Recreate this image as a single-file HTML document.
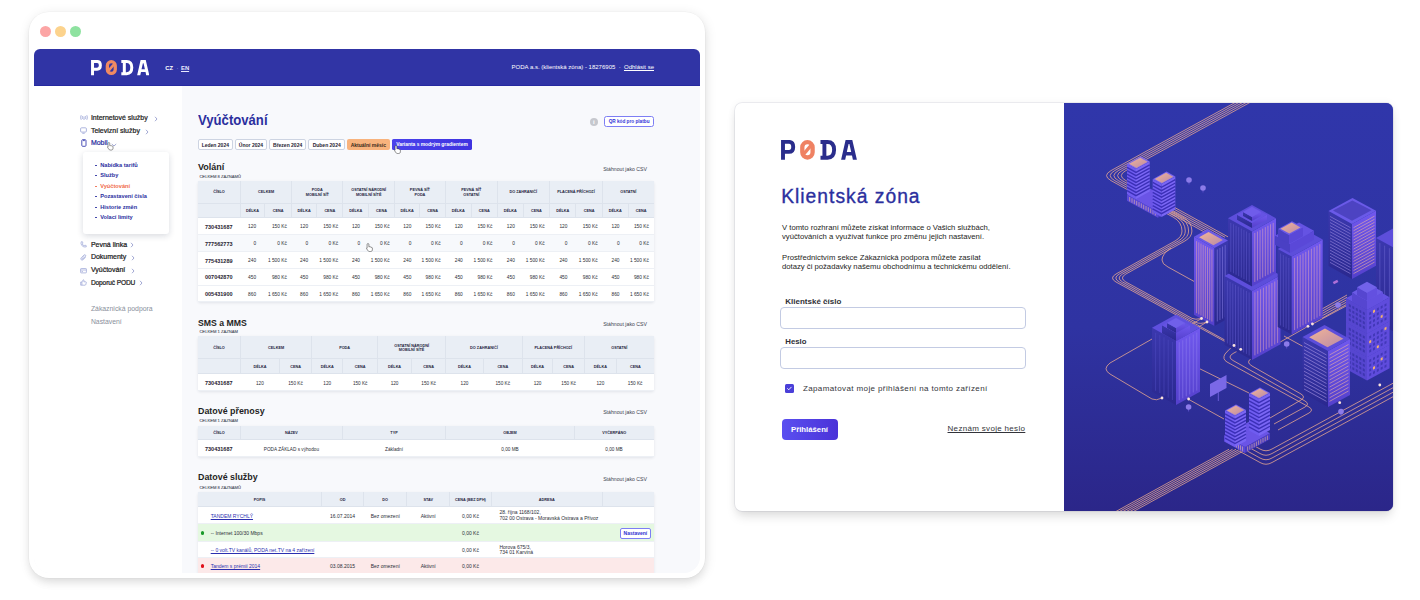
<!DOCTYPE html>
<html><head><meta charset="utf-8">
<style>
*{box-sizing:border-box;margin:0;padding:0}
html,body{width:1420px;height:600px;overflow:hidden;background:#fff}
body{position:relative;font-family:"Liberation Sans",sans-serif;color:#222}
.a{position:absolute}
.t{position:absolute;white-space:nowrap}
#win{position:absolute;left:28.6px;top:11.8px;width:676px;height:565.8px;background:#fff;border-radius:20px;box-shadow:0 6px 10px -2px rgba(0,0,0,.08),1px 2px 12px rgba(0,0,0,.10),0 0 0 0.6px rgba(0,0,0,.035)}
.dot{position:absolute;top:14px;width:11px;height:11px;border-radius:50%}
#app{position:absolute;left:5.4px;top:37.2px;width:666px;height:524px;border-radius:6px 6px 16px 16px;overflow:hidden;background:#f8f9fc}
#pg{position:absolute;left:-34px;top:-49px;width:1420px;height:600px}
#card{position:absolute;left:734.5px;top:103px;width:658.5px;height:407.5px;background:#fff;border-radius:7px;box-shadow:0 7px 11px -2px rgba(0,0,0,.13),0 0 8px rgba(0,0,0,.05),0 0 0 0.7px rgba(90,100,140,.13)}
#cpg{position:absolute;left:-734.5px;top:-103px;width:1420px;height:600px}
#ill{position:absolute;left:329.5px;top:0;width:329px;height:408px;border-radius:0 7px 7px 0;overflow:hidden;background:linear-gradient(#3036a8,#2c2890)}
table{border-collapse:collapse;table-layout:fixed;position:absolute;font-family:"Liberation Sans",sans-serif}
td,th{padding:0;overflow:hidden;white-space:nowrap}
</style></head>
<body>
<div id="win">
  <div class="dot" style="left:11px;background:#fca5a5"></div>
  <div class="dot" style="left:26px;background:#fcd38d"></div>
  <div class="dot" style="left:41px;background:#8ee2a0"></div>
  <div id="app"><div id="pg">
<div class="a" style="left:34.00px;top:49.00px;width:666.00px;height:37.00px;background:#3034a5;border-radius:3px 3px 0 0;"></div>
<div class="a" style="left:34.00px;top:85.00px;width:666.00px;height:1.00px;background:#2629a0;"></div>
<svg class="a" style="left:90.6px;top:60.4px" width="58.37" height="15.36" viewBox="0 0 76 20">
<path d="M2,19.7V1.9H8C10.8,1.9 12.2,3.9 12.2,6.9C12.2,9.9 10.8,11.9 8,11.9H2" fill="none" stroke="#ffffff" stroke-width="3.9"/>
<rect x="21.3" y="2.2" width="10.3" height="15.3" rx="5.15" fill="none" stroke="#f08a62" stroke-width="4.3"/>
<path d="M22.6,14.2L30.3,5.2" stroke="#f08a62" stroke-width="3.4"/>
<path d="M39.5,1.95H46.5C51.5,1.95 53.1,4.9 53.1,9.85C53.1,14.8 51.5,17.75 46.5,17.75H39.5M43.4,1.95V17.75" fill="none" stroke="#ffffff" stroke-width="3.9"/>
<path fill-rule="evenodd" fill="#ffffff" d="M60.1,19.7L64.6,0.1H71.3L75.9,19.7H71.9L71,15.6H65.1L64.2,19.7ZM65.8,12.1H70.2L68.4,4.1H67.6Z"/>
</svg>
<div class="t" style="left:165.30px;top:64.76px;font-size:5.85px;line-height:7.02px;font-weight:bold;color:#fff;">CZ</div>
<div class="t" style="left:177.50px;top:64.76px;font-size:5.85px;line-height:7.02px;font-weight:normal;color:#b9bbe8;transform:translateX(-50%);">·</div>
<div class="t" style="left:181.00px;top:64.76px;font-size:5.85px;line-height:7.02px;font-weight:bold;color:#e8e9ff;"><u>EN</u></div>
<div class="t" style="right:766.00px;top:64.12px;font-size:6px;line-height:7.20px;font-weight:normal;color:#fff;">PODA a.s. (klientská zóna) - 18276905 &nbsp;·&nbsp; <u>Odhlásit se</u></div>
<div class="a" style="left:34.00px;top:86.00px;width:148.00px;height:487.00px;background:#fff;"></div>
<div class="t" style="left:90.90px;top:114.37px;font-size:7px;line-height:8.40px;font-weight:normal;color:#222;-webkit-text-stroke:0.22px #222;">Internetové služby</div>
<div class="t" style="left:90.90px;top:127.17px;font-size:7px;line-height:8.40px;font-weight:normal;color:#222;-webkit-text-stroke:0.22px #222;">Televizní služby</div>
<div class="t" style="left:90.90px;top:139.37px;font-size:7px;line-height:8.40px;font-weight:normal;color:#2b2fa0;-webkit-text-stroke:0.22px #2b2fa0;">Mobil</div>
<svg class="a" style="left:153.80px;top:115.90px" width="4" height="6" viewBox="0 0 4 6"><path d="M1,0.8L3,3L1,5.2" fill="none" stroke="#8b93c9" stroke-width="0.8"/></svg>
<svg class="a" style="left:144.90px;top:128.70px" width="4" height="6" viewBox="0 0 4 6"><path d="M1,0.8L3,3L1,5.2" fill="none" stroke="#8b93c9" stroke-width="0.8"/></svg>
<svg class="a" style="left:111.00px;top:142.70px" width="6" height="4" viewBox="0 0 6 4"><path d="M0.8,1L3,3L5.2,1" fill="none" stroke="#8b93c9" stroke-width="0.8"/></svg>
<svg class="a" style="left:80px;top:114px" width="8" height="7" viewBox="0 0 8 7"><g fill="none" stroke="#98a2d6" stroke-width="0.8"><path d="M1.2,1.2Q0,3.5 1.2,5.8M6.8,1.2Q8,3.5 6.8,5.8M2.6,2.2Q2,3.5 2.6,4.8M5.4,2.2Q6,3.5 5.4,4.8"/><path d="M4,2.5V6"/></g></svg>
<svg class="a" style="left:80.5px;top:127px" width="7" height="7" viewBox="0 0 7 7"><g fill="none" stroke="#98a2d6" stroke-width="0.8"><rect x="0.6" y="0.8" width="5.8" height="4.3" rx="1"/><path d="M2.3,6.3H4.7"/></g></svg>
<svg class="a" style="left:81px;top:139px" width="6" height="8" viewBox="0 0 6 8"><g fill="none" stroke="#3a3fb0" stroke-width="0.9"><rect x="0.8" y="0.7" width="4.2" height="6.6" rx="0.9"/><path d="M2,1.6H3.8"/></g></svg>
<svg class="a" style="left:107.00px;top:142.50px" width="6.80" height="8.50" viewBox="0 0 8 10"><path d="M2.2,0.6C2.9,0.6 3.2,1 3.2,1.6V4.3C3.5,4 4.3,4 4.5,4.5C4.9,4.2 5.6,4.3 5.8,4.8C6.2,4.6 7.1,4.8 7.1,5.6V7.4C7.1,8.8 6.2,9.5 5,9.5H4C3,9.5 2.5,9 2,8.3L0.6,6.2C0.3,5.7 0.9,5.1 1.4,5.5L1.2,5.4V1.6C1.2,1 1.6,0.6 2.2,0.6Z" fill="#fff" stroke="#222" stroke-width="0.55"/></svg>
<div class="a" style="left:83.20px;top:152.20px;width:85.50px;height:82.00px;background:#fff;border-radius:3px;box-shadow:0 2px 6px rgba(20,30,60,.16);"></div>
<div class="a" style="left:95.20px;top:164.60px;width:1.40px;height:1.40px;background:#2b2fa0;border-radius:1px;"></div>
<div class="t" style="left:100.20px;top:161.85px;font-size:5.65px;line-height:6.78px;font-weight:bold;color:#2b2fa0;">Nabídka tarifů</div>
<div class="a" style="left:95.20px;top:175.10px;width:1.40px;height:1.40px;background:#2b2fa0;border-radius:1px;"></div>
<div class="t" style="left:100.20px;top:172.35px;font-size:5.65px;line-height:6.78px;font-weight:bold;color:#2b2fa0;">Služby</div>
<div class="a" style="left:95.20px;top:185.60px;width:1.40px;height:1.40px;background:#f06a4a;border-radius:1px;"></div>
<div class="t" style="left:100.20px;top:182.85px;font-size:5.65px;line-height:6.78px;font-weight:bold;color:#f06a4a;">Vyúčtování</div>
<div class="a" style="left:95.20px;top:196.10px;width:1.40px;height:1.40px;background:#2b2fa0;border-radius:1px;"></div>
<div class="t" style="left:100.20px;top:193.35px;font-size:5.65px;line-height:6.78px;font-weight:bold;color:#2b2fa0;">Pozastavení čísla</div>
<div class="a" style="left:95.20px;top:206.60px;width:1.40px;height:1.40px;background:#2b2fa0;border-radius:1px;"></div>
<div class="t" style="left:100.20px;top:203.85px;font-size:5.65px;line-height:6.78px;font-weight:bold;color:#2b2fa0;">Historie změn</div>
<div class="a" style="left:95.20px;top:217.10px;width:1.40px;height:1.40px;background:#2b2fa0;border-radius:1px;"></div>
<div class="t" style="left:100.20px;top:214.35px;font-size:5.65px;line-height:6.78px;font-weight:bold;color:#2b2fa0;">Volací limity</div>
<div class="t" style="left:90.90px;top:240.67px;font-size:7px;line-height:8.40px;font-weight:normal;color:#222;-webkit-text-stroke:0.22px #222;">Pevná linka</div>
<div class="t" style="left:90.90px;top:253.37px;font-size:7px;line-height:8.40px;font-weight:normal;color:#222;-webkit-text-stroke:0.22px #222;">Dokumenty</div>
<div class="t" style="left:90.90px;top:266.17px;font-size:7px;line-height:8.40px;font-weight:normal;color:#222;-webkit-text-stroke:0.22px #222;">Vyúčtování</div>
<div class="t" style="left:90.90px;top:279.15px;font-size:6.6px;line-height:7.92px;font-weight:normal;color:#222;letter-spacing:-0.12px;-webkit-text-stroke:0.22px #222;">Doporuč PODU</div>
<svg class="a" style="left:130.30px;top:242.30px" width="4" height="6" viewBox="0 0 4 6"><path d="M1,0.8L3,3L1,5.2" fill="none" stroke="#8b93c9" stroke-width="0.8"/></svg>
<svg class="a" style="left:131.10px;top:255.10px" width="4" height="6" viewBox="0 0 4 6"><path d="M1,0.8L3,3L1,5.2" fill="none" stroke="#8b93c9" stroke-width="0.8"/></svg>
<svg class="a" style="left:130.60px;top:267.90px" width="4" height="6" viewBox="0 0 4 6"><path d="M1,0.8L3,3L1,5.2" fill="none" stroke="#8b93c9" stroke-width="0.8"/></svg>
<svg class="a" style="left:138.70px;top:280.50px" width="4" height="6" viewBox="0 0 4 6"><path d="M1,0.8L3,3L1,5.2" fill="none" stroke="#8b93c9" stroke-width="0.8"/></svg>
<svg class="a" style="left:80.5px;top:241px" width="7" height="7" viewBox="0 0 7 7"><path d="M1.2,0.8L2.4,0.7L3,2.2L2.2,2.9Q3,4.4 4.2,4.9L4.9,4.1L6.3,4.7L6.2,5.9Q3.8,6.6 1.9,4.6Q0.5,2.8 1.2,0.8Z" fill="none" stroke="#98a2d6" stroke-width="0.7"/></svg>
<svg class="a" style="left:80.5px;top:254px" width="7" height="7" viewBox="0 0 7 7"><path d="M5.8,3L3.2,5.6Q2,6.6 1.1,5.7Q0.3,4.8 1.3,3.7L4,1Q4.8,0.3 5.5,1Q6.1,1.7 5.4,2.5L2.9,5Q2.4,5.4 2.1,5Q1.8,4.6 2.2,4.2L4.5,1.9" fill="none" stroke="#98a2d6" stroke-width="0.7"/></svg>
<svg class="a" style="left:80.5px;top:267px" width="7" height="7" viewBox="0 0 7 7"><g fill="none" stroke="#98a2d6" stroke-width="0.7"><rect x="0.6" y="1.5" width="5.8" height="4.4" rx="0.6"/><path d="M0.6,3H6.4M1.5,4.6H3"/></g></svg>
<svg class="a" style="left:80.5px;top:279px" width="7" height="7" viewBox="0 0 7 7"><g fill="none" stroke="#98a2d6" stroke-width="0.7"><path d="M0.7,3H1.9V6.2H0.7Z"/><path d="M1.9,3.1L3.3,0.7Q4.2,0.8 4,2.1L3.8,2.8H5.8Q6.5,2.9 6.3,3.7L5.7,5.8Q5.5,6.2 5,6.2H1.9"/></g></svg>
<div class="t" style="left:90.90px;top:305.31px;font-size:6.86px;line-height:8.23px;font-weight:normal;color:#8a8f9c;">Zákaznická podpora</div>
<div class="t" style="left:90.90px;top:317.61px;font-size:6.86px;line-height:8.23px;font-weight:normal;color:#8a8f9c;">Nastavení</div>
<div class="t" style="left:198.00px;top:112.16px;font-size:14.2px;line-height:17.04px;font-weight:bold;color:#2b2f9e;transform:scaleX(0.925);transform-origin:0 0;">Vyúčtování</div>
<div class="a" style="left:589.80px;top:118.00px;width:8.00px;height:8.00px;background:#c6c8ce;border-radius:50%;"></div>
<div class="t" style="left:593.80px;top:118.92px;font-size:6px;line-height:7.20px;font-weight:bold;color:#fff;transform:translateX(-50%);">i</div>
<div class="a" style="left:604.40px;top:116.30px;width:49.30px;height:10.50px;background:#fff;border:0.8px solid #7d7ef4;border-radius:2.5px;"></div>
<div class="t" style="left:629.10px;top:118.95px;font-size:4.7px;line-height:5.64px;font-weight:bold;color:#3434d8;transform:translateX(-50%);">QR kód pro platbu</div>
<div class="a" style="left:197.80px;top:139.30px;width:35.10px;height:10.80px;background:#fff;border:0.8px solid #cdd4e2;border-radius:2px;"></div>
<div class="t" style="left:215.35px;top:141.77px;font-size:5px;line-height:6.00px;font-weight:bold;color:#1f2433;transform:translateX(-50%);">Leden 2024</div>
<div class="a" style="left:234.90px;top:139.30px;width:32.10px;height:10.80px;background:#fff;border:0.8px solid #cdd4e2;border-radius:2px;"></div>
<div class="t" style="left:250.95px;top:141.77px;font-size:5px;line-height:6.00px;font-weight:bold;color:#1f2433;transform:translateX(-50%);">Únor 2024</div>
<div class="a" style="left:269.00px;top:139.30px;width:37.30px;height:10.80px;background:#fff;border:0.8px solid #cdd4e2;border-radius:2px;"></div>
<div class="t" style="left:287.65px;top:141.77px;font-size:5px;line-height:6.00px;font-weight:bold;color:#1f2433;transform:translateX(-50%);">Březen 2024</div>
<div class="a" style="left:308.40px;top:139.30px;width:36.60px;height:10.80px;background:#fff;border:0.8px solid #cdd4e2;border-radius:2px;"></div>
<div class="t" style="left:326.70px;top:141.77px;font-size:5px;line-height:6.00px;font-weight:bold;color:#1f2433;transform:translateX(-50%);">Duben 2024</div>
<div class="a" style="left:347.00px;top:139.30px;width:42.60px;height:10.80px;background:#f8b37d;border-radius:2px;"></div>
<div class="t" style="left:368.30px;top:141.77px;font-size:5px;line-height:6.00px;font-weight:bold;color:#3a2a1a;transform:translateX(-50%);">Aktuální měsíc</div>
<div class="a" style="left:392.40px;top:139.30px;width:79.20px;height:10.80px;background:linear-gradient(90deg,#4a42ec,#3f33e0);border-radius:1.6px;"></div>
<div class="t" style="left:432.00px;top:141.86px;font-size:4.9px;line-height:5.88px;font-weight:bold;color:#fff;transform:translateX(-50%);">Varianta s modrým gradientem</div>
<svg class="a" style="left:394.50px;top:145.50px" width="7.20" height="9.00" viewBox="0 0 8 10"><path d="M2.2,0.6C2.9,0.6 3.2,1 3.2,1.6V4.3C3.5,4 4.3,4 4.5,4.5C4.9,4.2 5.6,4.3 5.8,4.8C6.2,4.6 7.1,4.8 7.1,5.6V7.4C7.1,8.8 6.2,9.5 5,9.5H4C3,9.5 2.5,9 2,8.3L0.6,6.2C0.3,5.7 0.9,5.1 1.4,5.5L1.2,5.4V1.6C1.2,1 1.6,0.6 2.2,0.6Z" fill="#fff" stroke="#222" stroke-width="0.55"/></svg>
<div class="t" style="left:198.00px;top:161.68px;font-size:9px;line-height:10.80px;font-weight:bold;color:#1f1f24;">Volání</div>
<div class="t" style="left:199.40px;top:173.87px;font-size:4.15px;line-height:4.98px;font-weight:normal;color:#4a5060;-webkit-text-stroke:0.1px #4a5060;">CELKEM 8 ZÁZNAMŮ</div>
<div class="t" style="right:773.00px;top:165.88px;font-size:5.2px;line-height:6.24px;font-weight:normal;color:#3d4250;">Stáhnout jako CSV</div>
<table style="left:198px;top:180.6px;width:455.70px;box-shadow:0 1px 3px rgba(30,40,70,.10);border-radius:2px;"><colgroup><col style="width:42.50px"><col style="width:24.10px"><col style="width:27.10px"><col style="width:24.90px"><col style="width:26.40px"><col style="width:25.60px"><col style="width:25.90px"><col style="width:25.40px"><col style="width:25.50px"><col style="width:25.90px"><col style="width:26.00px"><col style="width:26.10px"><col style="width:26.10px"><col style="width:26.50px"><col style="width:26.50px"><col style="width:25.60px"><col style="width:25.60px"></colgroup><tr><th style="height:22.6px;background:#e9eef5;font-size:3.8px;line-height:4.37px;font-weight:bold;color:#1e2540;text-align:center;vertical-align:middle;padding-top:1.8px;border-bottom:0.8px solid #dde3ec;">ČÍSLO</th><th colspan="2" style="height:22.6px;background:#e9eef5;font-size:3.8px;line-height:4.37px;font-weight:bold;color:#1e2540;text-align:center;vertical-align:middle;padding-top:1.8px;border-left:0.8px solid #dde3ec;border-bottom:0.8px solid #dde3ec;">CELKEM</th><th colspan="2" style="height:22.6px;background:#e9eef5;font-size:3.8px;line-height:4.37px;font-weight:bold;color:#1e2540;text-align:center;vertical-align:middle;padding-top:1.8px;border-left:0.8px solid #dde3ec;border-bottom:0.8px solid #dde3ec;">PODA<br>MOBILNÍ SÍŤ</th><th colspan="2" style="height:22.6px;background:#e9eef5;font-size:3.8px;line-height:4.37px;font-weight:bold;color:#1e2540;text-align:center;vertical-align:middle;padding-top:1.8px;border-left:0.8px solid #dde3ec;border-bottom:0.8px solid #dde3ec;">OSTATNÍ NÁRODNÍ<br>MOBILNÍ SÍTĚ</th><th colspan="2" style="height:22.6px;background:#e9eef5;font-size:3.8px;line-height:4.37px;font-weight:bold;color:#1e2540;text-align:center;vertical-align:middle;padding-top:1.8px;border-left:0.8px solid #dde3ec;border-bottom:0.8px solid #dde3ec;">PEVNÁ SÍŤ<br>PODA</th><th colspan="2" style="height:22.6px;background:#e9eef5;font-size:3.8px;line-height:4.37px;font-weight:bold;color:#1e2540;text-align:center;vertical-align:middle;padding-top:1.8px;border-left:0.8px solid #dde3ec;border-bottom:0.8px solid #dde3ec;">PEVNÁ SÍŤ<br>OSTATNÍ</th><th colspan="2" style="height:22.6px;background:#e9eef5;font-size:3.8px;line-height:4.37px;font-weight:bold;color:#1e2540;text-align:center;vertical-align:middle;padding-top:1.8px;border-left:0.8px solid #dde3ec;border-bottom:0.8px solid #dde3ec;">DO ZAHRANIČÍ</th><th colspan="2" style="height:22.6px;background:#e9eef5;font-size:3.8px;line-height:4.37px;font-weight:bold;color:#1e2540;text-align:center;vertical-align:middle;padding-top:1.8px;border-left:0.8px solid #dde3ec;border-bottom:0.8px solid #dde3ec;">PLACENÁ PŘÍCHOZÍ</th><th colspan="2" style="height:22.6px;background:#e9eef5;font-size:3.8px;line-height:4.37px;font-weight:bold;color:#1e2540;text-align:center;vertical-align:middle;padding-top:1.8px;border-left:0.8px solid #dde3ec;border-bottom:0.8px solid #dde3ec;">OSTATNÍ</th></tr><tr><th style="height:14.6px;background:#e9eef5;font-size:3.8px;line-height:4.37px;font-weight:bold;color:#1e2540;text-align:center;vertical-align:middle;padding-top:1.8px;border-bottom:0.8px solid #dde3ec;"></th><th style="height:14.6px;background:#e9eef5;font-size:3.8px;line-height:4.37px;font-weight:bold;color:#1e2540;text-align:center;vertical-align:middle;padding-top:1.8px;border-left:0.8px solid #dde3ec;border-bottom:0.8px solid #dde3ec;">DÉLKA</th><th style="height:14.6px;background:#e9eef5;font-size:3.8px;line-height:4.37px;font-weight:bold;color:#1e2540;text-align:center;vertical-align:middle;padding-top:1.8px;border-left:0.8px solid #dde3ec;border-bottom:0.8px solid #dde3ec;">CENA</th><th style="height:14.6px;background:#e9eef5;font-size:3.8px;line-height:4.37px;font-weight:bold;color:#1e2540;text-align:center;vertical-align:middle;padding-top:1.8px;border-left:0.8px solid #dde3ec;border-bottom:0.8px solid #dde3ec;">DÉLKA</th><th style="height:14.6px;background:#e9eef5;font-size:3.8px;line-height:4.37px;font-weight:bold;color:#1e2540;text-align:center;vertical-align:middle;padding-top:1.8px;border-left:0.8px solid #dde3ec;border-bottom:0.8px solid #dde3ec;">CENA</th><th style="height:14.6px;background:#e9eef5;font-size:3.8px;line-height:4.37px;font-weight:bold;color:#1e2540;text-align:center;vertical-align:middle;padding-top:1.8px;border-left:0.8px solid #dde3ec;border-bottom:0.8px solid #dde3ec;">DÉLKA</th><th style="height:14.6px;background:#e9eef5;font-size:3.8px;line-height:4.37px;font-weight:bold;color:#1e2540;text-align:center;vertical-align:middle;padding-top:1.8px;border-left:0.8px solid #dde3ec;border-bottom:0.8px solid #dde3ec;">CENA</th><th style="height:14.6px;background:#e9eef5;font-size:3.8px;line-height:4.37px;font-weight:bold;color:#1e2540;text-align:center;vertical-align:middle;padding-top:1.8px;border-left:0.8px solid #dde3ec;border-bottom:0.8px solid #dde3ec;">DÉLKA</th><th style="height:14.6px;background:#e9eef5;font-size:3.8px;line-height:4.37px;font-weight:bold;color:#1e2540;text-align:center;vertical-align:middle;padding-top:1.8px;border-left:0.8px solid #dde3ec;border-bottom:0.8px solid #dde3ec;">CENA</th><th style="height:14.6px;background:#e9eef5;font-size:3.8px;line-height:4.37px;font-weight:bold;color:#1e2540;text-align:center;vertical-align:middle;padding-top:1.8px;border-left:0.8px solid #dde3ec;border-bottom:0.8px solid #dde3ec;">DÉLKA</th><th style="height:14.6px;background:#e9eef5;font-size:3.8px;line-height:4.37px;font-weight:bold;color:#1e2540;text-align:center;vertical-align:middle;padding-top:1.8px;border-left:0.8px solid #dde3ec;border-bottom:0.8px solid #dde3ec;">CENA</th><th style="height:14.6px;background:#e9eef5;font-size:3.8px;line-height:4.37px;font-weight:bold;color:#1e2540;text-align:center;vertical-align:middle;padding-top:1.8px;border-left:0.8px solid #dde3ec;border-bottom:0.8px solid #dde3ec;">DÉLKA</th><th style="height:14.6px;background:#e9eef5;font-size:3.8px;line-height:4.37px;font-weight:bold;color:#1e2540;text-align:center;vertical-align:middle;padding-top:1.8px;border-left:0.8px solid #dde3ec;border-bottom:0.8px solid #dde3ec;">CENA</th><th style="height:14.6px;background:#e9eef5;font-size:3.8px;line-height:4.37px;font-weight:bold;color:#1e2540;text-align:center;vertical-align:middle;padding-top:1.8px;border-left:0.8px solid #dde3ec;border-bottom:0.8px solid #dde3ec;">DÉLKA</th><th style="height:14.6px;background:#e9eef5;font-size:3.8px;line-height:4.37px;font-weight:bold;color:#1e2540;text-align:center;vertical-align:middle;padding-top:1.8px;border-left:0.8px solid #dde3ec;border-bottom:0.8px solid #dde3ec;">CENA</th><th style="height:14.6px;background:#e9eef5;font-size:3.8px;line-height:4.37px;font-weight:bold;color:#1e2540;text-align:center;vertical-align:middle;padding-top:1.8px;border-left:0.8px solid #dde3ec;border-bottom:0.8px solid #dde3ec;">DÉLKA</th><th style="height:14.6px;background:#e9eef5;font-size:3.8px;line-height:4.37px;font-weight:bold;color:#1e2540;text-align:center;vertical-align:middle;padding-top:1.8px;border-left:0.8px solid #dde3ec;border-bottom:0.8px solid #dde3ec;">CENA</th></tr><tr><td style="height:16.85px;background:#fff;font-size:5.5px;text-align:left;vertical-align:middle;color:#1f2230;border-bottom:0.8px solid #edf0f5;padding-top:1.4px;padding-left:7px;font-weight:bold;">730431687</td><td style="height:16.85px;background:#fff;font-size:4.8px;text-align:right;vertical-align:middle;color:#2a2d36;border-bottom:0.8px solid #edf0f5;padding-top:1.4px;padding-right:8.5px;">120</td><td style="height:16.85px;background:#fff;font-size:4.8px;text-align:right;vertical-align:middle;color:#2a2d36;border-bottom:0.8px solid #edf0f5;padding-top:1.4px;padding-right:4.8px;">150 Kč</td><td style="height:16.85px;background:#fff;font-size:4.8px;text-align:right;vertical-align:middle;color:#2a2d36;border-bottom:0.8px solid #edf0f5;padding-top:1.4px;padding-right:8.5px;">120</td><td style="height:16.85px;background:#fff;font-size:4.8px;text-align:right;vertical-align:middle;color:#2a2d36;border-bottom:0.8px solid #edf0f5;padding-top:1.4px;padding-right:4.8px;">150 Kč</td><td style="height:16.85px;background:#fff;font-size:4.8px;text-align:right;vertical-align:middle;color:#2a2d36;border-bottom:0.8px solid #edf0f5;padding-top:1.4px;padding-right:8.5px;">120</td><td style="height:16.85px;background:#fff;font-size:4.8px;text-align:right;vertical-align:middle;color:#2a2d36;border-bottom:0.8px solid #edf0f5;padding-top:1.4px;padding-right:4.8px;">150 Kč</td><td style="height:16.85px;background:#fff;font-size:4.8px;text-align:right;vertical-align:middle;color:#2a2d36;border-bottom:0.8px solid #edf0f5;padding-top:1.4px;padding-right:8.5px;">120</td><td style="height:16.85px;background:#fff;font-size:4.8px;text-align:right;vertical-align:middle;color:#2a2d36;border-bottom:0.8px solid #edf0f5;padding-top:1.4px;padding-right:4.8px;">150 Kč</td><td style="height:16.85px;background:#fff;font-size:4.8px;text-align:right;vertical-align:middle;color:#2a2d36;border-bottom:0.8px solid #edf0f5;padding-top:1.4px;padding-right:8.5px;">120</td><td style="height:16.85px;background:#fff;font-size:4.8px;text-align:right;vertical-align:middle;color:#2a2d36;border-bottom:0.8px solid #edf0f5;padding-top:1.4px;padding-right:4.8px;">150 Kč</td><td style="height:16.85px;background:#fff;font-size:4.8px;text-align:right;vertical-align:middle;color:#2a2d36;border-bottom:0.8px solid #edf0f5;padding-top:1.4px;padding-right:8.5px;">120</td><td style="height:16.85px;background:#fff;font-size:4.8px;text-align:right;vertical-align:middle;color:#2a2d36;border-bottom:0.8px solid #edf0f5;padding-top:1.4px;padding-right:4.8px;">150 Kč</td><td style="height:16.85px;background:#fff;font-size:4.8px;text-align:right;vertical-align:middle;color:#2a2d36;border-bottom:0.8px solid #edf0f5;padding-top:1.4px;padding-right:8.5px;">120</td><td style="height:16.85px;background:#fff;font-size:4.8px;text-align:right;vertical-align:middle;color:#2a2d36;border-bottom:0.8px solid #edf0f5;padding-top:1.4px;padding-right:4.8px;">150 Kč</td><td style="height:16.85px;background:#fff;font-size:4.8px;text-align:right;vertical-align:middle;color:#2a2d36;border-bottom:0.8px solid #edf0f5;padding-top:1.4px;padding-right:8.5px;">120</td><td style="height:16.85px;background:#fff;font-size:4.8px;text-align:right;vertical-align:middle;color:#2a2d36;border-bottom:0.8px solid #edf0f5;padding-top:1.4px;padding-right:4.8px;">150 Kč</td></tr><tr><td style="height:16.85px;background:#f7f9fc;font-size:5.5px;text-align:left;vertical-align:middle;color:#1f2230;border-bottom:0.8px solid #edf0f5;padding-top:1.4px;padding-left:7px;font-weight:bold;">777562773</td><td style="height:16.85px;background:#f7f9fc;font-size:4.8px;text-align:right;vertical-align:middle;color:#2a2d36;border-bottom:0.8px solid #edf0f5;padding-top:1.4px;padding-right:8.5px;">0</td><td style="height:16.85px;background:#f7f9fc;font-size:4.8px;text-align:right;vertical-align:middle;color:#2a2d36;border-bottom:0.8px solid #edf0f5;padding-top:1.4px;padding-right:4.8px;">0 Kč</td><td style="height:16.85px;background:#f7f9fc;font-size:4.8px;text-align:right;vertical-align:middle;color:#2a2d36;border-bottom:0.8px solid #edf0f5;padding-top:1.4px;padding-right:8.5px;">0</td><td style="height:16.85px;background:#f7f9fc;font-size:4.8px;text-align:right;vertical-align:middle;color:#2a2d36;border-bottom:0.8px solid #edf0f5;padding-top:1.4px;padding-right:4.8px;">0 Kč</td><td style="height:16.85px;background:#f7f9fc;font-size:4.8px;text-align:right;vertical-align:middle;color:#2a2d36;border-bottom:0.8px solid #edf0f5;padding-top:1.4px;padding-right:8.5px;">0</td><td style="height:16.85px;background:#f7f9fc;font-size:4.8px;text-align:right;vertical-align:middle;color:#2a2d36;border-bottom:0.8px solid #edf0f5;padding-top:1.4px;padding-right:4.8px;">0 Kč</td><td style="height:16.85px;background:#f7f9fc;font-size:4.8px;text-align:right;vertical-align:middle;color:#2a2d36;border-bottom:0.8px solid #edf0f5;padding-top:1.4px;padding-right:8.5px;">0</td><td style="height:16.85px;background:#f7f9fc;font-size:4.8px;text-align:right;vertical-align:middle;color:#2a2d36;border-bottom:0.8px solid #edf0f5;padding-top:1.4px;padding-right:4.8px;">0 Kč</td><td style="height:16.85px;background:#f7f9fc;font-size:4.8px;text-align:right;vertical-align:middle;color:#2a2d36;border-bottom:0.8px solid #edf0f5;padding-top:1.4px;padding-right:8.5px;">0</td><td style="height:16.85px;background:#f7f9fc;font-size:4.8px;text-align:right;vertical-align:middle;color:#2a2d36;border-bottom:0.8px solid #edf0f5;padding-top:1.4px;padding-right:4.8px;">0 Kč</td><td style="height:16.85px;background:#f7f9fc;font-size:4.8px;text-align:right;vertical-align:middle;color:#2a2d36;border-bottom:0.8px solid #edf0f5;padding-top:1.4px;padding-right:8.5px;">0</td><td style="height:16.85px;background:#f7f9fc;font-size:4.8px;text-align:right;vertical-align:middle;color:#2a2d36;border-bottom:0.8px solid #edf0f5;padding-top:1.4px;padding-right:4.8px;">0 Kč</td><td style="height:16.85px;background:#f7f9fc;font-size:4.8px;text-align:right;vertical-align:middle;color:#2a2d36;border-bottom:0.8px solid #edf0f5;padding-top:1.4px;padding-right:8.5px;">0</td><td style="height:16.85px;background:#f7f9fc;font-size:4.8px;text-align:right;vertical-align:middle;color:#2a2d36;border-bottom:0.8px solid #edf0f5;padding-top:1.4px;padding-right:4.8px;">0 Kč</td><td style="height:16.85px;background:#f7f9fc;font-size:4.8px;text-align:right;vertical-align:middle;color:#2a2d36;border-bottom:0.8px solid #edf0f5;padding-top:1.4px;padding-right:8.5px;">0</td><td style="height:16.85px;background:#f7f9fc;font-size:4.8px;text-align:right;vertical-align:middle;color:#2a2d36;border-bottom:0.8px solid #edf0f5;padding-top:1.4px;padding-right:4.8px;">0 Kč</td></tr><tr><td style="height:16.85px;background:#fff;font-size:5.5px;text-align:left;vertical-align:middle;color:#1f2230;border-bottom:0.8px solid #edf0f5;padding-top:1.4px;padding-left:7px;font-weight:bold;">775431289</td><td style="height:16.85px;background:#fff;font-size:4.8px;text-align:right;vertical-align:middle;color:#2a2d36;border-bottom:0.8px solid #edf0f5;padding-top:1.4px;padding-right:8.5px;">240</td><td style="height:16.85px;background:#fff;font-size:4.8px;text-align:right;vertical-align:middle;color:#2a2d36;border-bottom:0.8px solid #edf0f5;padding-top:1.4px;padding-right:4.8px;">1 500 Kč</td><td style="height:16.85px;background:#fff;font-size:4.8px;text-align:right;vertical-align:middle;color:#2a2d36;border-bottom:0.8px solid #edf0f5;padding-top:1.4px;padding-right:8.5px;">240</td><td style="height:16.85px;background:#fff;font-size:4.8px;text-align:right;vertical-align:middle;color:#2a2d36;border-bottom:0.8px solid #edf0f5;padding-top:1.4px;padding-right:4.8px;">1 500 Kč</td><td style="height:16.85px;background:#fff;font-size:4.8px;text-align:right;vertical-align:middle;color:#2a2d36;border-bottom:0.8px solid #edf0f5;padding-top:1.4px;padding-right:8.5px;">240</td><td style="height:16.85px;background:#fff;font-size:4.8px;text-align:right;vertical-align:middle;color:#2a2d36;border-bottom:0.8px solid #edf0f5;padding-top:1.4px;padding-right:4.8px;">1 500 Kč</td><td style="height:16.85px;background:#fff;font-size:4.8px;text-align:right;vertical-align:middle;color:#2a2d36;border-bottom:0.8px solid #edf0f5;padding-top:1.4px;padding-right:8.5px;">240</td><td style="height:16.85px;background:#fff;font-size:4.8px;text-align:right;vertical-align:middle;color:#2a2d36;border-bottom:0.8px solid #edf0f5;padding-top:1.4px;padding-right:4.8px;">1 500 Kč</td><td style="height:16.85px;background:#fff;font-size:4.8px;text-align:right;vertical-align:middle;color:#2a2d36;border-bottom:0.8px solid #edf0f5;padding-top:1.4px;padding-right:8.5px;">240</td><td style="height:16.85px;background:#fff;font-size:4.8px;text-align:right;vertical-align:middle;color:#2a2d36;border-bottom:0.8px solid #edf0f5;padding-top:1.4px;padding-right:4.8px;">1 500 Kč</td><td style="height:16.85px;background:#fff;font-size:4.8px;text-align:right;vertical-align:middle;color:#2a2d36;border-bottom:0.8px solid #edf0f5;padding-top:1.4px;padding-right:8.5px;">240</td><td style="height:16.85px;background:#fff;font-size:4.8px;text-align:right;vertical-align:middle;color:#2a2d36;border-bottom:0.8px solid #edf0f5;padding-top:1.4px;padding-right:4.8px;">1 500 Kč</td><td style="height:16.85px;background:#fff;font-size:4.8px;text-align:right;vertical-align:middle;color:#2a2d36;border-bottom:0.8px solid #edf0f5;padding-top:1.4px;padding-right:8.5px;">240</td><td style="height:16.85px;background:#fff;font-size:4.8px;text-align:right;vertical-align:middle;color:#2a2d36;border-bottom:0.8px solid #edf0f5;padding-top:1.4px;padding-right:4.8px;">1 500 Kč</td><td style="height:16.85px;background:#fff;font-size:4.8px;text-align:right;vertical-align:middle;color:#2a2d36;border-bottom:0.8px solid #edf0f5;padding-top:1.4px;padding-right:8.5px;">240</td><td style="height:16.85px;background:#fff;font-size:4.8px;text-align:right;vertical-align:middle;color:#2a2d36;border-bottom:0.8px solid #edf0f5;padding-top:1.4px;padding-right:4.8px;">1 500 Kč</td></tr><tr><td style="height:16.85px;background:#fff;font-size:5.5px;text-align:left;vertical-align:middle;color:#1f2230;border-bottom:0.8px solid #edf0f5;padding-top:1.4px;padding-left:7px;font-weight:bold;">007042870</td><td style="height:16.85px;background:#fff;font-size:4.8px;text-align:right;vertical-align:middle;color:#2a2d36;border-bottom:0.8px solid #edf0f5;padding-top:1.4px;padding-right:8.5px;">450</td><td style="height:16.85px;background:#fff;font-size:4.8px;text-align:right;vertical-align:middle;color:#2a2d36;border-bottom:0.8px solid #edf0f5;padding-top:1.4px;padding-right:4.8px;">980 Kč</td><td style="height:16.85px;background:#fff;font-size:4.8px;text-align:right;vertical-align:middle;color:#2a2d36;border-bottom:0.8px solid #edf0f5;padding-top:1.4px;padding-right:8.5px;">450</td><td style="height:16.85px;background:#fff;font-size:4.8px;text-align:right;vertical-align:middle;color:#2a2d36;border-bottom:0.8px solid #edf0f5;padding-top:1.4px;padding-right:4.8px;">980 Kč</td><td style="height:16.85px;background:#fff;font-size:4.8px;text-align:right;vertical-align:middle;color:#2a2d36;border-bottom:0.8px solid #edf0f5;padding-top:1.4px;padding-right:8.5px;">450</td><td style="height:16.85px;background:#fff;font-size:4.8px;text-align:right;vertical-align:middle;color:#2a2d36;border-bottom:0.8px solid #edf0f5;padding-top:1.4px;padding-right:4.8px;">980 Kč</td><td style="height:16.85px;background:#fff;font-size:4.8px;text-align:right;vertical-align:middle;color:#2a2d36;border-bottom:0.8px solid #edf0f5;padding-top:1.4px;padding-right:8.5px;">450</td><td style="height:16.85px;background:#fff;font-size:4.8px;text-align:right;vertical-align:middle;color:#2a2d36;border-bottom:0.8px solid #edf0f5;padding-top:1.4px;padding-right:4.8px;">980 Kč</td><td style="height:16.85px;background:#fff;font-size:4.8px;text-align:right;vertical-align:middle;color:#2a2d36;border-bottom:0.8px solid #edf0f5;padding-top:1.4px;padding-right:8.5px;">450</td><td style="height:16.85px;background:#fff;font-size:4.8px;text-align:right;vertical-align:middle;color:#2a2d36;border-bottom:0.8px solid #edf0f5;padding-top:1.4px;padding-right:4.8px;">980 Kč</td><td style="height:16.85px;background:#fff;font-size:4.8px;text-align:right;vertical-align:middle;color:#2a2d36;border-bottom:0.8px solid #edf0f5;padding-top:1.4px;padding-right:8.5px;">450</td><td style="height:16.85px;background:#fff;font-size:4.8px;text-align:right;vertical-align:middle;color:#2a2d36;border-bottom:0.8px solid #edf0f5;padding-top:1.4px;padding-right:4.8px;">980 Kč</td><td style="height:16.85px;background:#fff;font-size:4.8px;text-align:right;vertical-align:middle;color:#2a2d36;border-bottom:0.8px solid #edf0f5;padding-top:1.4px;padding-right:8.5px;">450</td><td style="height:16.85px;background:#fff;font-size:4.8px;text-align:right;vertical-align:middle;color:#2a2d36;border-bottom:0.8px solid #edf0f5;padding-top:1.4px;padding-right:4.8px;">980 Kč</td><td style="height:16.85px;background:#fff;font-size:4.8px;text-align:right;vertical-align:middle;color:#2a2d36;border-bottom:0.8px solid #edf0f5;padding-top:1.4px;padding-right:8.5px;">450</td><td style="height:16.85px;background:#fff;font-size:4.8px;text-align:right;vertical-align:middle;color:#2a2d36;border-bottom:0.8px solid #edf0f5;padding-top:1.4px;padding-right:4.8px;">980 Kč</td></tr><tr><td style="height:16.85px;background:#fff;font-size:5.5px;text-align:left;vertical-align:middle;color:#1f2230;border-bottom:0.8px solid #edf0f5;padding-top:1.4px;padding-left:7px;font-weight:bold;">005431900</td><td style="height:16.85px;background:#fff;font-size:4.8px;text-align:right;vertical-align:middle;color:#2a2d36;border-bottom:0.8px solid #edf0f5;padding-top:1.4px;padding-right:8.5px;">860</td><td style="height:16.85px;background:#fff;font-size:4.8px;text-align:right;vertical-align:middle;color:#2a2d36;border-bottom:0.8px solid #edf0f5;padding-top:1.4px;padding-right:4.8px;">1 650 Kč</td><td style="height:16.85px;background:#fff;font-size:4.8px;text-align:right;vertical-align:middle;color:#2a2d36;border-bottom:0.8px solid #edf0f5;padding-top:1.4px;padding-right:8.5px;">860</td><td style="height:16.85px;background:#fff;font-size:4.8px;text-align:right;vertical-align:middle;color:#2a2d36;border-bottom:0.8px solid #edf0f5;padding-top:1.4px;padding-right:4.8px;">1 650 Kč</td><td style="height:16.85px;background:#fff;font-size:4.8px;text-align:right;vertical-align:middle;color:#2a2d36;border-bottom:0.8px solid #edf0f5;padding-top:1.4px;padding-right:8.5px;">860</td><td style="height:16.85px;background:#fff;font-size:4.8px;text-align:right;vertical-align:middle;color:#2a2d36;border-bottom:0.8px solid #edf0f5;padding-top:1.4px;padding-right:4.8px;">1 650 Kč</td><td style="height:16.85px;background:#fff;font-size:4.8px;text-align:right;vertical-align:middle;color:#2a2d36;border-bottom:0.8px solid #edf0f5;padding-top:1.4px;padding-right:8.5px;">860</td><td style="height:16.85px;background:#fff;font-size:4.8px;text-align:right;vertical-align:middle;color:#2a2d36;border-bottom:0.8px solid #edf0f5;padding-top:1.4px;padding-right:4.8px;">1 650 Kč</td><td style="height:16.85px;background:#fff;font-size:4.8px;text-align:right;vertical-align:middle;color:#2a2d36;border-bottom:0.8px solid #edf0f5;padding-top:1.4px;padding-right:8.5px;">860</td><td style="height:16.85px;background:#fff;font-size:4.8px;text-align:right;vertical-align:middle;color:#2a2d36;border-bottom:0.8px solid #edf0f5;padding-top:1.4px;padding-right:4.8px;">1 650 Kč</td><td style="height:16.85px;background:#fff;font-size:4.8px;text-align:right;vertical-align:middle;color:#2a2d36;border-bottom:0.8px solid #edf0f5;padding-top:1.4px;padding-right:8.5px;">860</td><td style="height:16.85px;background:#fff;font-size:4.8px;text-align:right;vertical-align:middle;color:#2a2d36;border-bottom:0.8px solid #edf0f5;padding-top:1.4px;padding-right:4.8px;">1 650 Kč</td><td style="height:16.85px;background:#fff;font-size:4.8px;text-align:right;vertical-align:middle;color:#2a2d36;border-bottom:0.8px solid #edf0f5;padding-top:1.4px;padding-right:8.5px;">860</td><td style="height:16.85px;background:#fff;font-size:4.8px;text-align:right;vertical-align:middle;color:#2a2d36;border-bottom:0.8px solid #edf0f5;padding-top:1.4px;padding-right:4.8px;">1 650 Kč</td><td style="height:16.85px;background:#fff;font-size:4.8px;text-align:right;vertical-align:middle;color:#2a2d36;border-bottom:0.8px solid #edf0f5;padding-top:1.4px;padding-right:8.5px;">860</td><td style="height:16.85px;background:#fff;font-size:4.8px;text-align:right;vertical-align:middle;color:#2a2d36;border-bottom:0.8px solid #edf0f5;padding-top:1.4px;padding-right:4.8px;">1 650 Kč</td></tr></table>
<svg class="a" style="left:366.00px;top:243.00px" width="7.20" height="9.00" viewBox="0 0 8 10"><path d="M2.2,0.6C2.9,0.6 3.2,1 3.2,1.6V4.3C3.5,4 4.3,4 4.5,4.5C4.9,4.2 5.6,4.3 5.8,4.8C6.2,4.6 7.1,4.8 7.1,5.6V7.4C7.1,8.8 6.2,9.5 5,9.5H4C3,9.5 2.5,9 2,8.3L0.6,6.2C0.3,5.7 0.9,5.1 1.4,5.5L1.2,5.4V1.6C1.2,1 1.6,0.6 2.2,0.6Z" fill="#fff" stroke="#222" stroke-width="0.55"/></svg>
<div class="t" style="left:198.00px;top:317.87px;font-size:8.7px;line-height:10.44px;font-weight:bold;color:#1f1f24;">SMS a MMS</div>
<div class="t" style="left:199.40px;top:329.47px;font-size:4.15px;line-height:4.98px;font-weight:normal;color:#4a5060;-webkit-text-stroke:0.1px #4a5060;">CELKEM 1 ZÁZNAM</div>
<div class="t" style="right:773.00px;top:321.08px;font-size:5.2px;line-height:6.24px;font-weight:normal;color:#3d4250;">Stáhnout jako CSV</div>
<table style="left:198px;top:336.5px;width:455.80px;box-shadow:0 1px 3px rgba(30,40,70,.10);border-radius:2px;"><colgroup><col style="width:42.50px"><col style="width:38.90px"><col style="width:32.30px"><col style="width:31.10px"><col style="width:34.80px"><col style="width:34.00px"><col style="width:34.10px"><col style="width:37.70px"><col style="width:38.80px"><col style="width:30.80px"><col style="width:31.30px"><col style="width:32.20px"><col style="width:37.30px"></colgroup><tr><th style="height:22.5px;background:#e9eef5;font-size:3.8px;line-height:4.37px;font-weight:bold;color:#1e2540;text-align:center;vertical-align:middle;padding-top:1.8px;border-bottom:0.8px solid #dde3ec;">ČÍSLO</th><th colspan="2" style="height:22.5px;background:#e9eef5;font-size:3.8px;line-height:4.37px;font-weight:bold;color:#1e2540;text-align:center;vertical-align:middle;padding-top:1.8px;border-left:0.8px solid #dde3ec;border-bottom:0.8px solid #dde3ec;">CELKEM</th><th colspan="2" style="height:22.5px;background:#e9eef5;font-size:3.8px;line-height:4.37px;font-weight:bold;color:#1e2540;text-align:center;vertical-align:middle;padding-top:1.8px;border-left:0.8px solid #dde3ec;border-bottom:0.8px solid #dde3ec;">PODA</th><th colspan="2" style="height:22.5px;background:#e9eef5;font-size:3.8px;line-height:4.37px;font-weight:bold;color:#1e2540;text-align:center;vertical-align:middle;padding-top:1.8px;border-left:0.8px solid #dde3ec;border-bottom:0.8px solid #dde3ec;">OSTATNÍ NÁRODNÍ<br>MOBILNÍ SÍTĚ</th><th colspan="2" style="height:22.5px;background:#e9eef5;font-size:3.8px;line-height:4.37px;font-weight:bold;color:#1e2540;text-align:center;vertical-align:middle;padding-top:1.8px;border-left:0.8px solid #dde3ec;border-bottom:0.8px solid #dde3ec;">DO ZAHRANIČÍ</th><th colspan="2" style="height:22.5px;background:#e9eef5;font-size:3.8px;line-height:4.37px;font-weight:bold;color:#1e2540;text-align:center;vertical-align:middle;padding-top:1.8px;border-left:0.8px solid #dde3ec;border-bottom:0.8px solid #dde3ec;">PLACENÁ PŘÍCHOZÍ</th><th colspan="2" style="height:22.5px;background:#e9eef5;font-size:3.8px;line-height:4.37px;font-weight:bold;color:#1e2540;text-align:center;vertical-align:middle;padding-top:1.8px;border-left:0.8px solid #dde3ec;border-bottom:0.8px solid #dde3ec;">OSTATNÍ</th></tr><tr><th style="height:14.7px;background:#e9eef5;font-size:3.8px;line-height:4.37px;font-weight:bold;color:#1e2540;text-align:center;vertical-align:middle;padding-top:1.8px;border-bottom:0.8px solid #dde3ec;"></th><th style="height:14.7px;background:#e9eef5;font-size:3.8px;line-height:4.37px;font-weight:bold;color:#1e2540;text-align:center;vertical-align:middle;padding-top:1.8px;border-left:0.8px solid #dde3ec;border-bottom:0.8px solid #dde3ec;">DÉLKA</th><th style="height:14.7px;background:#e9eef5;font-size:3.8px;line-height:4.37px;font-weight:bold;color:#1e2540;text-align:center;vertical-align:middle;padding-top:1.8px;border-left:0.8px solid #dde3ec;border-bottom:0.8px solid #dde3ec;">CENA</th><th style="height:14.7px;background:#e9eef5;font-size:3.8px;line-height:4.37px;font-weight:bold;color:#1e2540;text-align:center;vertical-align:middle;padding-top:1.8px;border-left:0.8px solid #dde3ec;border-bottom:0.8px solid #dde3ec;">DÉLKA</th><th style="height:14.7px;background:#e9eef5;font-size:3.8px;line-height:4.37px;font-weight:bold;color:#1e2540;text-align:center;vertical-align:middle;padding-top:1.8px;border-left:0.8px solid #dde3ec;border-bottom:0.8px solid #dde3ec;">CENA</th><th style="height:14.7px;background:#e9eef5;font-size:3.8px;line-height:4.37px;font-weight:bold;color:#1e2540;text-align:center;vertical-align:middle;padding-top:1.8px;border-left:0.8px solid #dde3ec;border-bottom:0.8px solid #dde3ec;">DÉLKA</th><th style="height:14.7px;background:#e9eef5;font-size:3.8px;line-height:4.37px;font-weight:bold;color:#1e2540;text-align:center;vertical-align:middle;padding-top:1.8px;border-left:0.8px solid #dde3ec;border-bottom:0.8px solid #dde3ec;">CENA</th><th style="height:14.7px;background:#e9eef5;font-size:3.8px;line-height:4.37px;font-weight:bold;color:#1e2540;text-align:center;vertical-align:middle;padding-top:1.8px;border-left:0.8px solid #dde3ec;border-bottom:0.8px solid #dde3ec;">DÉLKA</th><th style="height:14.7px;background:#e9eef5;font-size:3.8px;line-height:4.37px;font-weight:bold;color:#1e2540;text-align:center;vertical-align:middle;padding-top:1.8px;border-left:0.8px solid #dde3ec;border-bottom:0.8px solid #dde3ec;">CENA</th><th style="height:14.7px;background:#e9eef5;font-size:3.8px;line-height:4.37px;font-weight:bold;color:#1e2540;text-align:center;vertical-align:middle;padding-top:1.8px;border-left:0.8px solid #dde3ec;border-bottom:0.8px solid #dde3ec;">DÉLKA</th><th style="height:14.7px;background:#e9eef5;font-size:3.8px;line-height:4.37px;font-weight:bold;color:#1e2540;text-align:center;vertical-align:middle;padding-top:1.8px;border-left:0.8px solid #dde3ec;border-bottom:0.8px solid #dde3ec;">CENA</th><th style="height:14.7px;background:#e9eef5;font-size:3.8px;line-height:4.37px;font-weight:bold;color:#1e2540;text-align:center;vertical-align:middle;padding-top:1.8px;border-left:0.8px solid #dde3ec;border-bottom:0.8px solid #dde3ec;">DÉLKA</th><th style="height:14.7px;background:#e9eef5;font-size:3.8px;line-height:4.37px;font-weight:bold;color:#1e2540;text-align:center;vertical-align:middle;padding-top:1.8px;border-left:0.8px solid #dde3ec;border-bottom:0.8px solid #dde3ec;">CENA</th></tr><tr><td style="height:17.3px;background:#fff;font-size:5.5px;text-align:left;vertical-align:middle;color:#1f2230;border-bottom:0.8px solid #edf0f5;padding-top:1.4px;padding-left:7px;font-weight:bold;">730431687</td><td style="height:17.3px;background:#fff;font-size:4.7px;text-align:center;vertical-align:middle;color:#2a2d36;border-bottom:0.8px solid #edf0f5;padding-top:1.4px;">120</td><td style="height:17.3px;background:#fff;font-size:4.7px;text-align:center;vertical-align:middle;color:#2a2d36;border-bottom:0.8px solid #edf0f5;padding-top:1.4px;">150 Kč</td><td style="height:17.3px;background:#fff;font-size:4.7px;text-align:center;vertical-align:middle;color:#2a2d36;border-bottom:0.8px solid #edf0f5;padding-top:1.4px;">120</td><td style="height:17.3px;background:#fff;font-size:4.7px;text-align:center;vertical-align:middle;color:#2a2d36;border-bottom:0.8px solid #edf0f5;padding-top:1.4px;">150 Kč</td><td style="height:17.3px;background:#fff;font-size:4.7px;text-align:center;vertical-align:middle;color:#2a2d36;border-bottom:0.8px solid #edf0f5;padding-top:1.4px;">120</td><td style="height:17.3px;background:#fff;font-size:4.7px;text-align:center;vertical-align:middle;color:#2a2d36;border-bottom:0.8px solid #edf0f5;padding-top:1.4px;">150 Kč</td><td style="height:17.3px;background:#fff;font-size:4.7px;text-align:center;vertical-align:middle;color:#2a2d36;border-bottom:0.8px solid #edf0f5;padding-top:1.4px;">120</td><td style="height:17.3px;background:#fff;font-size:4.7px;text-align:center;vertical-align:middle;color:#2a2d36;border-bottom:0.8px solid #edf0f5;padding-top:1.4px;">150 Kč</td><td style="height:17.3px;background:#fff;font-size:4.7px;text-align:center;vertical-align:middle;color:#2a2d36;border-bottom:0.8px solid #edf0f5;padding-top:1.4px;">120</td><td style="height:17.3px;background:#fff;font-size:4.7px;text-align:center;vertical-align:middle;color:#2a2d36;border-bottom:0.8px solid #edf0f5;padding-top:1.4px;">150 Kč</td><td style="height:17.3px;background:#fff;font-size:4.7px;text-align:center;vertical-align:middle;color:#2a2d36;border-bottom:0.8px solid #edf0f5;padding-top:1.4px;">120</td><td style="height:17.3px;background:#fff;font-size:4.7px;text-align:center;vertical-align:middle;color:#2a2d36;border-bottom:0.8px solid #edf0f5;padding-top:1.4px;">150 Kč</td></tr></table>
<div class="t" style="left:198.00px;top:406.18px;font-size:8.9px;line-height:10.68px;font-weight:bold;color:#1f1f24;">Datové přenosy</div>
<div class="t" style="left:199.40px;top:417.97px;font-size:4.15px;line-height:4.98px;font-weight:normal;color:#4a5060;-webkit-text-stroke:0.1px #4a5060;">CELKEM 1 ZÁZNAM</div>
<div class="t" style="right:773.00px;top:409.28px;font-size:5.2px;line-height:6.24px;font-weight:normal;color:#3d4250;">Stáhnout jako CSV</div>
<table style="left:198px;top:425.7px;width:455.80px;box-shadow:0 1px 3px rgba(30,40,70,.10);border-radius:2px;"><colgroup><col style="width:42.50px"><col style="width:101.90px"><col style="width:103.30px"><col style="width:128.60px"><col style="width:79.50px"></colgroup><tr><th style="height:14px;background:#e9eef5;font-size:3.8px;line-height:4.37px;font-weight:bold;color:#1e2540;text-align:center;vertical-align:middle;padding-top:1.8px;border-bottom:0.8px solid #dde3ec;">ČÍSLO</th><th style="height:14px;background:#e9eef5;font-size:3.8px;line-height:4.37px;font-weight:bold;color:#1e2540;text-align:center;vertical-align:middle;padding-top:1.8px;border-left:0.8px solid #dde3ec;border-bottom:0.8px solid #dde3ec;">NÁZEV</th><th style="height:14px;background:#e9eef5;font-size:3.8px;line-height:4.37px;font-weight:bold;color:#1e2540;text-align:center;vertical-align:middle;padding-top:1.8px;border-left:0.8px solid #dde3ec;border-bottom:0.8px solid #dde3ec;">TYP</th><th style="height:14px;background:#e9eef5;font-size:3.8px;line-height:4.37px;font-weight:bold;color:#1e2540;text-align:center;vertical-align:middle;padding-top:1.8px;border-left:0.8px solid #dde3ec;border-bottom:0.8px solid #dde3ec;">OBJEM</th><th style="height:14px;background:#e9eef5;font-size:3.8px;line-height:4.37px;font-weight:bold;color:#1e2540;text-align:center;vertical-align:middle;padding-top:1.8px;border-left:0.8px solid #dde3ec;border-bottom:0.8px solid #dde3ec;">VYČERPÁNO</th></tr><tr><td style="height:17.3px;background:#fff;font-size:5.5px;text-align:left;vertical-align:middle;color:#1f2230;border-bottom:0.8px solid #edf0f5;padding-top:1.4px;padding-left:7px;font-weight:bold;">730431687</td><td style="height:17.3px;background:#fff;font-size:4.7px;text-align:center;vertical-align:middle;color:#2a2d36;border-bottom:0.8px solid #edf0f5;padding-top:1.4px;">PODA ZÁKLAD s výhodou</td><td style="height:17.3px;background:#fff;font-size:4.7px;text-align:center;vertical-align:middle;color:#2a2d36;border-bottom:0.8px solid #edf0f5;padding-top:1.4px;">Základní</td><td style="height:17.3px;background:#fff;font-size:4.7px;text-align:center;vertical-align:middle;color:#2a2d36;border-bottom:0.8px solid #edf0f5;padding-top:1.4px;">0,00 MB</td><td style="height:17.3px;background:#fff;font-size:4.7px;text-align:center;vertical-align:middle;color:#2a2d36;border-bottom:0.8px solid #edf0f5;padding-top:1.4px;">0,00 MB</td></tr></table>
<div class="t" style="left:198.00px;top:472.28px;font-size:8.9px;line-height:10.68px;font-weight:bold;color:#1f1f24;">Datové služby</div>
<div class="t" style="left:199.40px;top:484.67px;font-size:4.15px;line-height:4.98px;font-weight:normal;color:#4a5060;-webkit-text-stroke:0.1px #4a5060;">CELKEM 8 ZÁZNAMŮ</div>
<div class="t" style="right:773.00px;top:476.48px;font-size:5.2px;line-height:6.24px;font-weight:normal;color:#3d4250;">Stáhnout jako CSV</div>
<table style="left:198px;top:491.8px;width:455.70px;box-shadow:0 1px 3px rgba(30,40,70,.10);border-radius:2px;"><colgroup><col style="width:123.50px"><col style="width:42.20px"><col style="width:43.10px"><col style="width:42.90px"><col style="width:41.60px"><col style="width:111.20px"><col style="width:51.20px"></colgroup><tr><th style="height:15px;background:#e9eef5;font-size:3.8px;line-height:4.37px;font-weight:bold;color:#1e2540;text-align:center;vertical-align:middle;padding-top:1.8px;border-bottom:0.8px solid #dde3ec;">POPIS</th><th style="height:15px;background:#e9eef5;font-size:3.8px;line-height:4.37px;font-weight:bold;color:#1e2540;text-align:center;vertical-align:middle;padding-top:1.8px;border-left:0.8px solid #dde3ec;border-bottom:0.8px solid #dde3ec;">OD</th><th style="height:15px;background:#e9eef5;font-size:3.8px;line-height:4.37px;font-weight:bold;color:#1e2540;text-align:center;vertical-align:middle;padding-top:1.8px;border-left:0.8px solid #dde3ec;border-bottom:0.8px solid #dde3ec;">DO</th><th style="height:15px;background:#e9eef5;font-size:3.8px;line-height:4.37px;font-weight:bold;color:#1e2540;text-align:center;vertical-align:middle;padding-top:1.8px;border-left:0.8px solid #dde3ec;border-bottom:0.8px solid #dde3ec;">STAV</th><th style="height:15px;background:#e9eef5;font-size:3.8px;line-height:4.37px;font-weight:bold;color:#1e2540;text-align:center;vertical-align:middle;padding-top:1.8px;border-left:0.8px solid #dde3ec;border-bottom:0.8px solid #dde3ec;">CENA (BEZ DPH)</th><th style="height:15px;background:#e9eef5;font-size:3.8px;line-height:4.37px;font-weight:bold;color:#1e2540;text-align:center;vertical-align:middle;padding-top:1.8px;border-left:0.8px solid #dde3ec;border-bottom:0.8px solid #dde3ec;">ADRESA</th><th style="height:15px;background:#e9eef5;font-size:3.8px;line-height:4.37px;font-weight:bold;color:#1e2540;text-align:center;vertical-align:middle;padding-top:1.8px;border-left:0.8px solid #dde3ec;border-bottom:0.8px solid #dde3ec;"></th></tr><tr><td style="height:17px;background:#fff;font-size:5.0px;text-align:left;vertical-align:middle;color:#2a2d36;border-bottom:0.8px solid #edf0f5;padding-top:1.4px;padding-left:12.7px;"><span style="color:#2b2fb0;text-decoration:underline;">TANDEM RYCHLÝ</span></td><td style="height:17px;background:#fff;font-size:5.0px;text-align:center;vertical-align:middle;color:#2a2d36;border-bottom:0.8px solid #edf0f5;padding-top:1.4px;">16.07.2014</td><td style="height:17px;background:#fff;font-size:5.0px;text-align:center;vertical-align:middle;color:#2a2d36;border-bottom:0.8px solid #edf0f5;padding-top:1.4px;">Bez omezení</td><td style="height:17px;background:#fff;font-size:5.0px;text-align:center;vertical-align:middle;color:#2a2d36;border-bottom:0.8px solid #edf0f5;padding-top:1.4px;">Aktivní</td><td style="height:17px;background:#fff;font-size:5.0px;text-align:center;vertical-align:middle;color:#2a2d36;border-bottom:0.8px solid #edf0f5;padding-top:1.4px;">0,00 Kč</td><td style="height:17px;background:#fff;font-size:5.0px;text-align:left;vertical-align:middle;color:#2a2d36;border-bottom:0.8px solid #edf0f5;padding-top:1.4px;padding-left:8.2px;line-height:5.6px;">28. října 1168/102,<br>702 00 Ostrava - Moravská Ostrava a Přívoz</td><td style="height:17px;background:#fff;font-size:5.0px;text-align:center;vertical-align:middle;color:#2a2d36;border-bottom:0.8px solid #edf0f5;padding-top:1.4px;"></td></tr><tr><td style="height:17.5px;background:#e5f8e1;font-size:5.0px;text-align:left;vertical-align:middle;color:#2a2d36;border-bottom:0.8px solid #edf0f5;padding-top:1.4px;padding-left:12.7px;position:relative;"><span style="position:absolute;left:3px;margin-top:1.2px;width:3.4px;height:3.4px;border-radius:50%;background:#1a9a2a"></span>-- Internet 100/30 Mbps</td><td style="height:17.5px;background:#e5f8e1;font-size:5.0px;text-align:center;vertical-align:middle;color:#2a2d36;border-bottom:0.8px solid #edf0f5;padding-top:1.4px;"></td><td style="height:17.5px;background:#e5f8e1;font-size:5.0px;text-align:center;vertical-align:middle;color:#2a2d36;border-bottom:0.8px solid #edf0f5;padding-top:1.4px;"></td><td style="height:17.5px;background:#e5f8e1;font-size:5.0px;text-align:center;vertical-align:middle;color:#2a2d36;border-bottom:0.8px solid #edf0f5;padding-top:1.4px;"></td><td style="height:17.5px;background:#e5f8e1;font-size:5.0px;text-align:center;vertical-align:middle;color:#2a2d36;border-bottom:0.8px solid #edf0f5;padding-top:1.4px;">0,00 Kč</td><td style="height:17.5px;background:#e5f8e1;font-size:5.0px;text-align:center;vertical-align:middle;color:#2a2d36;border-bottom:0.8px solid #edf0f5;padding-top:1.4px;"></td><td style="height:17.5px;background:#e5f8e1;font-size:5.0px;text-align:right;vertical-align:middle;color:#2a2d36;border-bottom:0.8px solid #edf0f5;padding-top:1.4px;padding-right:3.1px;"><span style="display:inline-block;width:30.4px;height:10.7px;line-height:9.4px;border:0.8px solid #7d7ef4;border-radius:2px;background:#fff;color:#2f2fd0;font-weight:bold;font-size:5px;text-align:center;vertical-align:middle">Nastavení</span></td></tr><tr><td style="height:16.3px;background:#fff;font-size:5.0px;text-align:left;vertical-align:middle;color:#2a2d36;border-bottom:0.8px solid #edf0f5;padding-top:1.4px;padding-left:12.7px;"><span style="color:#2b2fb0;text-decoration:underline;">-- 0 volt.TV kanálů, PODA net.TV na 4 zařízení</span></td><td style="height:16.3px;background:#fff;font-size:5.0px;text-align:center;vertical-align:middle;color:#2a2d36;border-bottom:0.8px solid #edf0f5;padding-top:1.4px;"></td><td style="height:16.3px;background:#fff;font-size:5.0px;text-align:center;vertical-align:middle;color:#2a2d36;border-bottom:0.8px solid #edf0f5;padding-top:1.4px;"></td><td style="height:16.3px;background:#fff;font-size:5.0px;text-align:center;vertical-align:middle;color:#2a2d36;border-bottom:0.8px solid #edf0f5;padding-top:1.4px;"></td><td style="height:16.3px;background:#fff;font-size:5.0px;text-align:center;vertical-align:middle;color:#2a2d36;border-bottom:0.8px solid #edf0f5;padding-top:1.4px;">0,00 Kč</td><td style="height:16.3px;background:#fff;font-size:5.0px;text-align:left;vertical-align:middle;color:#2a2d36;border-bottom:0.8px solid #edf0f5;padding-top:1.4px;padding-left:8.2px;line-height:5.6px;">Horova 675/3,<br>734 01 Karviná</td><td style="height:16.3px;background:#fff;font-size:5.0px;text-align:center;vertical-align:middle;color:#2a2d36;border-bottom:0.8px solid #edf0f5;padding-top:1.4px;"></td></tr><tr><td style="height:16px;background:#fce9e9;font-size:5.0px;text-align:left;vertical-align:middle;color:#2a2d36;border-bottom:0.8px solid #edf0f5;padding-top:1.4px;padding-left:12.7px;position:relative;"><span style="position:absolute;left:3px;margin-top:1.2px;width:3.4px;height:3.4px;border-radius:50%;background:#e0101a"></span><span style="color:#2b2fb0;text-decoration:underline;">Tandem s prémií 2014</span></td><td style="height:16px;background:#fce9e9;font-size:5.0px;text-align:center;vertical-align:middle;color:#2a2d36;border-bottom:0.8px solid #edf0f5;padding-top:1.4px;">03.08.2015</td><td style="height:16px;background:#fce9e9;font-size:5.0px;text-align:center;vertical-align:middle;color:#2a2d36;border-bottom:0.8px solid #edf0f5;padding-top:1.4px;">Bez omezení</td><td style="height:16px;background:#fce9e9;font-size:5.0px;text-align:center;vertical-align:middle;color:#2a2d36;border-bottom:0.8px solid #edf0f5;padding-top:1.4px;">Aktivní</td><td style="height:16px;background:#fce9e9;font-size:5.0px;text-align:center;vertical-align:middle;color:#2a2d36;border-bottom:0.8px solid #edf0f5;padding-top:1.4px;">0,00 Kč</td><td style="height:16px;background:#fce9e9;font-size:5.0px;text-align:center;vertical-align:middle;color:#2a2d36;border-bottom:0.8px solid #edf0f5;padding-top:1.4px;"></td><td style="height:16px;background:#fce9e9;font-size:5.0px;text-align:center;vertical-align:middle;color:#2a2d36;border-bottom:0.8px solid #edf0f5;padding-top:1.4px;"></td></tr></table>
</div></div></div>
<div id="card"><div id="cpg">
<svg class="a" style="left:781px;top:140px" width="76.00" height="20.00" viewBox="0 0 76 20">
<path d="M2,19.7V1.9H8C10.8,1.9 12.2,3.9 12.2,6.9C12.2,9.9 10.8,11.9 8,11.9H2" fill="none" stroke="#2a2d8c" stroke-width="3.9"/>
<rect x="21.3" y="2.2" width="10.3" height="15.3" rx="5.15" fill="none" stroke="#ef8263" stroke-width="4.3"/>
<path d="M22.6,14.2L30.3,5.2" stroke="#ef8263" stroke-width="3.4"/>
<path d="M39.5,1.95H46.5C51.5,1.95 53.1,4.9 53.1,9.85C53.1,14.8 51.5,17.75 46.5,17.75H39.5M43.4,1.95V17.75" fill="none" stroke="#2a2d8c" stroke-width="3.9"/>
<path fill-rule="evenodd" fill="#2a2d8c" d="M60.1,19.7L64.6,0.1H71.3L75.9,19.7H71.9L71,15.6H65.1L64.2,19.7ZM65.8,12.1H70.2L68.4,4.1H67.6Z"/>
</svg>
<div class="t" style="left:781.20px;top:184.93px;font-size:19.3px;line-height:23.16px;font-weight:normal;color:#2b2f9e;letter-spacing:1.0px;-webkit-text-stroke:0.35px #2b2f9e;">Klientská zóna</div>
<div class="t" style="left:782.00px;top:222.71px;font-size:7.7px;line-height:9.24px;font-weight:normal;color:#1c1d21;">V tomto rozhraní můžete získat informace o Vašich službách,</div>
<div class="t" style="left:782.00px;top:232.41px;font-size:7.7px;line-height:9.24px;font-weight:normal;color:#1c1d21;">vyúčtováních a využívat funkce pro změnu jejich nastavení.</div>
<div class="t" style="left:782.00px;top:252.61px;font-size:7.7px;line-height:9.24px;font-weight:normal;color:#1c1d21;">Prostřednictvím sekce Zákaznická podpora můžete zasílat</div>
<div class="t" style="left:782.00px;top:262.31px;font-size:7.7px;line-height:9.24px;font-weight:normal;color:#1c1d21;">dotazy či požadavky našemu obchodnímu a technickému oddělení.</div>
<div class="t" style="left:785.30px;top:297.13px;font-size:8px;line-height:9.60px;font-weight:bold;color:#2f3037;">Klientské číslo</div>
<div class="a" style="left:780.20px;top:307.30px;width:245.40px;height:21.50px;background:#fff;border:0.9px solid #c3cbe3;border-radius:4px;"></div>
<div class="t" style="left:785.30px;top:337.42px;font-size:7.8px;line-height:9.36px;font-weight:bold;color:#2f3037;">Heslo</div>
<div class="a" style="left:780.20px;top:347.40px;width:245.40px;height:21.50px;background:#fff;border:0.9px solid #c3cbe3;border-radius:4px;"></div>
<div class="a" style="left:785.30px;top:384.30px;width:8.70px;height:8.60px;background:#4a3fd8;border-radius:1.5px;"></div>
<svg class="a" style="left:785.3px;top:384.3px" width="8.7" height="8.6" viewBox="0 0 8.7 8.6"><path d="M2.3,4.3L3.8,5.8L6.5,2.9" fill="none" stroke="#fff" stroke-width="0.9"/></svg>
<div class="t" style="left:802.90px;top:383.73px;font-size:8.0px;line-height:9.60px;font-weight:normal;color:#33343a;letter-spacing:0.39px;">Zapamatovat moje přihlášení na tomto zařízení</div>
<div class="a" style="left:782.00px;top:419.20px;width:55.80px;height:20.70px;background:linear-gradient(90deg,#5a4ff0,#4a32d8);border-radius:4px;"></div>
<div class="t" style="left:809.50px;top:425.46px;font-size:7.75px;line-height:9.30px;font-weight:bold;color:#fff;transform:translateX(-50%);">Přihlášení</div>
<div class="t" style="right:394.70px;top:424.43px;font-size:8px;line-height:9.60px;font-weight:normal;color:#33343a;letter-spacing:0.32px;"><u>Neznám svoje heslo</u></div>
</div><div id="ill"><svg width="329" height="408" viewBox="0 0 329 408" style="position:absolute;left:0;top:0">
<defs>
<linearGradient id="bg" x1="0" y1="0" x2="0" y2="1"><stop offset="0" stop-color="#3036aa"/><stop offset="0.55" stop-color="#2f33a2"/><stop offset="1" stop-color="#2b2689"/></linearGradient>
<linearGradient id="gL" x1="0" y1="0" x2="0" y2="1"><stop offset="0" stop-color="#3b38ae"/><stop offset="1" stop-color="#2a288f"/></linearGradient>
<linearGradient id="gR" x1="0" y1="0" x2="0" y2="1"><stop offset="0" stop-color="#7058ee"/><stop offset="1" stop-color="#5440cc"/></linearGradient>
<linearGradient id="gRoof" x1="0" y1="0" x2="1" y2="1"><stop offset="0" stop-color="#f2b496"/><stop offset="1" stop-color="#b98aa8"/></linearGradient>
</defs>
<rect width="329" height="408" fill="url(#bg)"/>
<path d="M172,-1L47,67.6Q38,72.6 47,77.6L150,134.3" transform="translate(0.00,0.00)" fill="none" stroke="#f0ad90" stroke-width="0.75"/>
<path d="M172,-1L47,67.6Q38,72.6 47,77.6L150,134.3" transform="translate(3.70,0.00)" fill="none" stroke="#f0ad90" stroke-width="0.75"/>
<path d="M172,-1L47,67.6Q38,72.6 47,77.6L150,134.3" transform="translate(7.40,0.00)" fill="none" stroke="#f0ad90" stroke-width="0.75"/>
<path d="M172,-1L47,67.6Q38,72.6 47,77.6L150,134.3" transform="translate(11.10,0.00)" fill="none" stroke="#f0ad90" stroke-width="0.75"/>
<path d="M172,-1L47,67.6Q38,72.6 47,77.6L150,134.3" transform="translate(14.80,0.00)" fill="none" stroke="#f0ad90" stroke-width="0.75"/>
<path d="M96,107L109,114Q118,119 118,128Q118,134 111,138L52,171Q45,175 52,179L176.7,247.1" fill="none" stroke="#f0ad90" stroke-width="0.75"/>
<path d="M99.3,107L112.3,114Q121.3,119 121.3,128Q121.3,134 114.3,138L55.3,171Q48.3,175 55.3,179L170,242.1" fill="none" stroke="#f0ad90" stroke-width="0.75"/>
<path d="M102.6,107L115.6,114Q124.6,119 124.6,128Q124.6,134 117.6,138L58.6,171Q51.6,175 58.6,179L132,219.4Q136,221.5 143,219" fill="none" stroke="#f0ad90" stroke-width="0.75"/>
<path d="M105.9,107L118.9,114Q127.9,119 127.9,128Q127.9,134 120.9,138L61.9,171Q54.9,175 61.9,179L128,215.4Q131,217 137.5,215.5" fill="none" stroke="#f0ad90" stroke-width="0.75"/>
<path d="M107,145Q98,151 98,157Q98,161 104,164L132,179.5" transform="translate(0.00,0.00)" fill="none" stroke="#f0ad90" stroke-width="0.75"/>
<path d="M137.5,215.5L118,227" transform="translate(0.00,0.00)" fill="none" stroke="#f0ad90" stroke-width="0.75"/>
<path d="M143,219L126,229" transform="translate(0.00,0.00)" fill="none" stroke="#f0ad90" stroke-width="0.75"/>
<path d="M220,233L240,244" transform="translate(0.00,0.00)" fill="none" stroke="#f0ad90" stroke-width="0.75"/>
<path d="M170,242.5Q165,246 161,251Q158,256 163,259L245,304Q250,307 245,310L214,327" transform="translate(0.00,0.00)" fill="none" stroke="#f0ad90" stroke-width="0.75"/>
<path d="M176.7,246.3L169,250.5Q163,254 169,257.5L241,298Q246,301 241,304L210,321" transform="translate(0.00,0.00)" fill="none" stroke="#f0ad90" stroke-width="0.75"/>
<path d="M244,223.3L188,255Q181,259 188,263L237,291Q242,294 237,297L206,315" transform="translate(0.00,0.00)" fill="none" stroke="#f0ad90" stroke-width="0.75"/>
<path d="M248,221.3L282,203" transform="translate(0.00,0.00)" fill="none" stroke="#f0ad90" stroke-width="0.75"/>
<path d="M258,206L283,192" transform="translate(0.00,0.00)" fill="none" stroke="#f0ad90" stroke-width="0.75"/>
<path d="M258,206L283,192" transform="translate(0.00,2.30)" fill="none" stroke="#f0ad90" stroke-width="0.75"/>
<path d="M258,206L283,192" transform="translate(0.00,4.60)" fill="none" stroke="#f0ad90" stroke-width="0.75"/>
<path d="M258,206L283,192" transform="translate(0.00,6.90)" fill="none" stroke="#f0ad90" stroke-width="0.75"/>
<path d="M258,206L283,192" transform="translate(0.00,9.20)" fill="none" stroke="#f0ad90" stroke-width="0.75"/>
<path d="M88,236L46,260Q38,266 46,271L88,296Q92,298 98,295" transform="translate(0.00,0.00)" fill="none" stroke="#f0ad90" stroke-width="0.75"/>
<path d="M124,296L160,316" transform="translate(0.00,0.00)" fill="none" stroke="#f0ad90" stroke-width="0.75"/>
<path d="M135.8,265.8L185,290" transform="translate(0.00,0.00)" fill="none" stroke="#f0ad90" stroke-width="0.75"/>
<path d="M51,409L165,346.3" transform="translate(0.00,0.00)" fill="none" stroke="#f0ad90" stroke-width="0.75"/>
<path d="M51,409L165,346.3" transform="translate(3.50,0.00)" fill="none" stroke="#f0ad90" stroke-width="0.75"/>
<path d="M51,409L165,346.3" transform="translate(7.00,0.00)" fill="none" stroke="#f0ad90" stroke-width="0.75"/>
<path d="M51,409L165,346.3" transform="translate(10.50,0.00)" fill="none" stroke="#f0ad90" stroke-width="0.75"/>
<path d="M51,409L165,346.3" transform="translate(14.00,0.00)" fill="none" stroke="#f0ad90" stroke-width="0.75"/>
<path d="M51,409L165,346.3" transform="translate(17.50,0.00)" fill="none" stroke="#f0ad90" stroke-width="0.75"/>
<path d="M176,335L196,346Q202,349.5 208,346L335,277" transform="translate(0.00,0.00)" fill="none" stroke="#f0ad90" stroke-width="0.75"/>
<path d="M176,335L196,346Q202,349.5 208,346L335,277" transform="translate(0.00,4.50)" fill="none" stroke="#f0ad90" stroke-width="0.75"/>
<path d="M176,335L196,346Q202,349.5 208,346L335,277" transform="translate(0.00,9.00)" fill="none" stroke="#f0ad90" stroke-width="0.75"/>
<path d="M176,335L196,346Q202,349.5 208,346L335,277" transform="translate(0.00,13.50)" fill="none" stroke="#f0ad90" stroke-width="0.75"/>
<path d="M300,246L262,224" transform="translate(0.00,0.00)" fill="none" stroke="#f0ad90" stroke-width="0.75"/>
<polygon points="94.00,114.70 63.00,97.65 63.00,91.65 94.00,108.70" fill="#5a48d8"/>
<polygon points="94.00,114.70 111.00,105.35 111.00,99.35 94.00,108.70" fill="#4b3cc4"/>
<polygon points="94.00,108.70 63.00,91.65 80.00,82.30 111.00,99.35" fill="#6a54e6"/>
<path d="M65.67,98.40V94.02M68.00,99.68V95.30M70.33,100.96V96.58M72.67,102.25V97.87M75.00,103.53V99.15M77.33,104.81V100.43M79.67,106.10V101.72M82.00,107.38V103.00M84.33,108.66V104.28M86.67,109.95V105.57M89.00,111.23V106.85M91.33,112.51V108.13" stroke="#f3c1a0" stroke-width="0.55" fill="none"/>
<path d="M96.67,112.51V108.13M99.00,111.23V106.85M101.33,109.95V105.57M103.67,108.66V104.28M106.00,107.38V103.00M108.33,106.10V101.72" stroke="#f3c1a0" stroke-width="0.55" fill="none"/>
<polygon points="72.00,96.00 63.00,91.05 63.00,61.05 72.00,66.00" fill="#6f5cf0"/>
<polygon points="72.00,96.00 85.70,88.47 85.70,58.47 72.00,66.00" fill="#7a66f4"/>
<polygon points="72.00,66.00 63.00,61.05 76.70,53.52 85.70,58.47" fill="#7a66f0"/>
<polygon points="72.42,64.88 65.04,60.82 76.28,54.64 83.66,58.70" fill="url(#gRoof)"/>
<path d="M63.00,87.72L72.00,92.67L85.70,85.13M63.00,84.38L72.00,89.33L85.70,81.80M63.00,81.05L72.00,86.00L85.70,78.47M63.00,77.72L72.00,82.67L85.70,75.13M63.00,74.38L72.00,79.33L85.70,71.80M63.00,71.05L72.00,76.00L85.70,68.47M63.00,67.72L72.00,72.67L85.70,65.13M63.00,64.38L72.00,69.33L85.70,61.80" stroke="#3c30b8" stroke-width="1.4" fill="none"/>
<polygon points="97.50,114.00 88.70,109.16 88.70,76.16 97.50,81.00" fill="#6f5cf0"/>
<polygon points="97.50,114.00 111.30,106.41 111.30,73.41 97.50,81.00" fill="#7a66f4"/>
<polygon points="97.50,81.00 88.70,76.16 102.50,68.57 111.30,73.41" fill="#7a66f0"/>
<polygon points="97.95,79.88 90.73,75.91 102.05,69.69 109.27,73.66" fill="url(#gRoof)"/>
<path d="M88.70,105.86L97.50,110.70L111.30,103.11M88.70,102.56L97.50,107.40L111.30,99.81M88.70,99.26L97.50,104.10L111.30,96.51M88.70,95.96L97.50,100.80L111.30,93.21M88.70,92.66L97.50,97.50L111.30,89.91M88.70,89.36L97.50,94.20L111.30,86.61M88.70,86.06L97.50,90.90L111.30,83.31M88.70,82.76L97.50,87.60L111.30,80.01M88.70,79.46L97.50,84.30L111.30,76.71" stroke="#3c30b8" stroke-width="1.4" fill="none"/>
<path d="M125,77V81.5" stroke="#6a5ad8" stroke-width="0.7"/><circle cx="125" cy="77" r="2.8" fill="#8c7be9"/>
<path d="M139,85V89.5" stroke="#6a5ad8" stroke-width="0.7"/><circle cx="139" cy="85" r="2.8" fill="#8c7be9"/>
<polygon points="150.50,223.00 130.00,211.72 130.00,133.72 150.50,145.00" fill="url(#gR)"/>
<polygon points="150.50,223.00 164.00,215.57 164.00,137.57 150.50,145.00" fill="url(#gL)"/>
<polygon points="150.50,145.00 130.00,133.72 143.50,126.30 164.00,137.57" fill="#6a58e8"/>
<path d="M132.59,210.15V138.15M134.78,211.35V139.35M136.97,212.56V140.56M139.16,213.76V141.76M141.34,214.96V142.96M143.53,216.17V144.17M145.72,217.37V145.37M147.91,218.57V146.57" stroke="#e9a9a8" stroke-width="0.55" fill="none"/>
<path d="M153.31,218.45V146.45M155.94,217.01V145.01M158.56,215.57V143.57M161.19,214.12V142.12" stroke="#8a80e8" stroke-width="0.55" fill="none"/>
<polygon points="149.45,142.19 135.10,134.30 144.55,129.11 158.90,137.00" fill="url(#gRoof)"/>
<circle cx="143" cy="219" r="1.4" fill="#fbe3dc"/>
<circle cx="137.5" cy="215.5" r="1.4" fill="#fbe3dc"/>
<polygon points="188.00,257.00 160.50,241.88 160.50,172.88 188.00,188.00" fill="url(#gL)"/>
<polygon points="188.00,257.00 216.50,241.32 216.50,172.32 188.00,188.00" fill="url(#gR)"/>
<polygon points="188.00,188.00 160.50,172.88 189.00,157.20 216.50,172.32" fill="#5d4edb"/>
<path d="M163.36,240.45V177.45M166.08,241.95V178.95M168.81,243.44V180.44M171.53,244.94V181.94M174.25,246.44V183.44M176.97,247.93V184.93M179.69,249.43V186.43M182.42,250.93V187.93M185.14,252.43V189.43" stroke="#5f5acb" stroke-width="0.55" fill="none"/>
<path d="M190.92,252.40V189.40M193.75,250.84V187.84M196.58,249.28V186.28M199.42,247.72V184.72M202.25,246.16V183.16M205.08,244.60V181.60M207.92,243.05V180.05M210.75,241.49V178.49M213.58,239.93V176.93" stroke="#e3a7b8" stroke-width="0.55" fill="none"/>
<polygon points="188.00,183.50 164.00,170.30 164.00,115.30 188.00,128.50" fill="url(#gL)"/>
<polygon points="188.00,183.50 212.00,170.30 212.00,115.30 188.00,128.50" fill="url(#gR)"/>
<polygon points="188.00,128.50 164.00,115.30 188.00,102.10 212.00,115.30" fill="#5d4edb"/>
<path d="M166.81,168.85V119.85M169.44,170.29V121.29M172.06,171.73V122.73M174.69,173.18V124.18M177.31,174.62V125.62M179.94,176.07V127.07M182.56,177.51V128.51M185.19,178.95V129.95" stroke="#5f5acb" stroke-width="0.55" fill="none"/>
<path d="M190.81,178.95V129.95M193.44,177.51V128.51M196.06,176.07V127.07M198.69,174.62V125.62M201.31,173.18V124.18M203.94,171.73V122.73M206.56,170.29V121.29M209.19,168.85V119.85" stroke="#e3a7b8" stroke-width="0.55" fill="none"/>
<polygon points="188.00,125.00 173.00,116.75 173.00,111.75 188.00,120.00" fill="url(#gL)"/>
<polygon points="188.00,125.00 203.00,116.75 203.00,111.75 188.00,120.00" fill="url(#gR)"/>
<polygon points="188.00,120.00 173.00,111.75 188.00,103.50 203.00,111.75" fill="#6553e3"/>
<polygon points="188.00,118.00 179.00,113.05 179.00,109.05 188.00,114.00" fill="url(#gL)"/>
<polygon points="188.00,118.00 197.00,113.05 197.00,109.05 188.00,114.00" fill="url(#gR)"/>
<polygon points="188.00,114.00 179.00,109.05 188.00,104.10 197.00,109.05" fill="#6f5cea"/>
<circle cx="170" cy="242.5" r="1.4" fill="#fbe3dc"/>
<circle cx="176.7" cy="246.3" r="1.4" fill="#fbe3dc"/>
<polygon points="227.70,231.60 213.70,223.90 213.70,145.90 227.70,153.60" fill="url(#gL)"/>
<polygon points="227.70,231.60 258.70,214.55 258.70,136.55 227.70,153.60" fill="url(#gR)"/>
<polygon points="227.70,153.60 213.70,145.90 244.70,128.85 258.70,136.55" fill="#5d4edb"/>
<path d="M216.57,222.48V150.48M219.32,223.99V151.99M222.07,225.51V153.51M224.82,227.02V155.02" stroke="#5f5acb" stroke-width="0.55" fill="none"/>
<path d="M230.60,227.00V155.00M233.40,225.47V153.47M236.20,223.93V151.93M239.00,222.38V150.38M241.80,220.84V148.84M244.60,219.31V147.31M247.40,217.77V145.77M250.20,216.22V144.22M253.00,214.69V142.69M255.80,213.15V141.15" stroke="#e3a7b8" stroke-width="0.55" fill="none"/>
<polygon points="226.00,150.00 211.00,141.75 211.00,132.75 226.00,141.00" fill="#4a40c4"/>
<polygon points="226.00,150.00 250.00,136.80 250.00,127.80 226.00,141.00" fill="#5a48d8"/>
<polygon points="226.00,141.00 211.00,132.75 235.00,119.55 250.00,127.80" fill="#6553e3"/>
<polygon points="225.00,141.00 214.00,134.95 214.00,125.95 225.00,132.00" fill="#4a40c4"/>
<polygon points="225.00,141.00 239.00,133.30 239.00,124.30 225.00,132.00" fill="#5a48d8"/>
<polygon points="225.00,132.00 214.00,125.95 228.00,118.25 239.00,124.30" fill="#6b5ae6"/>
<polygon points="225.30,130.62 216.50,125.78 227.70,119.62 236.50,124.47" fill="url(#gRoof)"/>
<circle cx="244" cy="223.3" r="1.4" fill="#fbe3dc"/>
<circle cx="248.4" cy="221" r="1.4" fill="#fbe3dc"/>
<polygon points="288.00,176.00 264.50,163.07 264.50,108.07 288.00,121.00" fill="url(#gL)"/>
<polygon points="288.00,176.00 312.00,162.80 312.00,107.80 288.00,121.00" fill="url(#gR)"/>
<polygon points="288.00,121.00 264.50,108.07 288.50,94.88 312.00,107.80" fill="#6a5ae8"/>
<path d="M266.00,159.37L286.50,170.64M266.00,156.31L286.50,167.58M266.00,153.24L286.50,164.52M266.00,150.18L286.50,161.46M266.00,147.12L286.50,158.39M266.00,144.06L286.50,155.33M266.00,140.99L286.50,152.27M266.00,137.93L286.50,149.21M266.00,134.87L286.50,146.14M266.00,131.81L286.50,143.08M266.00,128.74L286.50,140.02M266.00,125.68L286.50,136.96M266.00,122.62L286.50,133.89M266.00,119.56L286.50,130.83M266.00,116.49L286.50,127.77M266.00,113.43L286.50,124.71" stroke="#9a8ae0" stroke-width="0.6" fill="none"/>
<path d="M289.50,170.64L310.50,159.09M289.50,167.58L310.50,156.03M289.50,164.52L310.50,152.97M289.50,161.46L310.50,149.91M289.50,158.39L310.50,146.84M289.50,155.33L310.50,143.78M289.50,152.27L310.50,140.72M289.50,149.21L310.50,137.66M289.50,146.14L310.50,134.59M289.50,143.08L310.50,131.53M289.50,140.02L310.50,128.47M289.50,136.96L310.50,125.41M289.50,133.89L310.50,122.34M289.50,130.83L310.50,119.28M289.50,127.77L310.50,116.22M289.50,124.71L310.50,113.16" stroke="#f0b2a0" stroke-width="0.6" fill="none"/>
<polygon points="288,117.8 269,107.4 288.4,97.6 307.5,107.2" fill="#4d43c2"/>
<polygon points="334.00,231.00 312.00,218.90 312.00,134.90 334.00,147.00" fill="url(#gL)"/>
<polygon points="334.00,231.00 354.00,220.00 354.00,136.00 334.00,147.00" fill="url(#gR)"/>
<polygon points="334.00,147.00 312.00,134.90 332.00,123.90 354.00,136.00" fill="#5d4edb"/>
<path d="M315.88,218.03V140.03M320.62,220.64V142.64M325.38,223.26V145.26M330.12,225.87V147.87" stroke="#6a64d0" stroke-width="0.55" fill="none"/>
<polygon points="303.00,277.60 282.00,266.05 282.00,242.45 303.00,254.00" fill="#5646d0"/>
<polygon points="303.00,277.60 325.60,265.17 325.60,241.57 303.00,254.00" fill="#5f4cdc"/>
<polygon points="303.00,254.00 282.00,242.45 304.60,230.02 325.60,241.57" fill="#6553e3"/>
<g transform="matrix(-1,-0.55,0,-1,303,277.6)"><rect x="2.20" y="3.00" width="2" height="2.6" fill="#3e36b0"/><rect x="5.70" y="3.00" width="2" height="2.6" fill="#3e36b0"/><rect x="9.20" y="3.00" width="2" height="2.6" fill="#3e36b0"/><rect x="12.70" y="3.00" width="2" height="2.6" fill="#3e36b0"/><rect x="16.20" y="3.00" width="2" height="2.6" fill="#3e36b0"/><rect x="2.20" y="7.65" width="2" height="2.6" fill="#3e36b0"/><rect x="5.70" y="7.65" width="2" height="2.6" fill="#3e36b0"/><rect x="9.20" y="7.65" width="2" height="2.6" fill="#3e36b0"/><rect x="12.70" y="7.65" width="2" height="2.6" fill="#3e36b0"/><rect x="16.20" y="7.65" width="2" height="2.6" fill="#3e36b0"/><rect x="2.20" y="12.30" width="2" height="2.6" fill="#3e36b0"/><rect x="5.70" y="12.30" width="2" height="2.6" fill="#3e36b0"/><rect x="9.20" y="12.30" width="2" height="2.6" fill="#3e36b0"/><rect x="12.70" y="12.30" width="2" height="2.6" fill="#3e36b0"/><rect x="16.20" y="12.30" width="2" height="2.6" fill="#3e36b0"/><rect x="2.20" y="16.95" width="2" height="2.6" fill="#3e36b0"/><rect x="5.70" y="16.95" width="2" height="2.6" fill="#3e36b0"/><rect x="9.20" y="16.95" width="2" height="2.6" fill="#3e36b0"/><rect x="12.70" y="16.95" width="2" height="2.6" fill="#3e36b0"/><rect x="16.20" y="16.95" width="2" height="2.6" fill="#3e36b0"/></g>
<g transform="matrix(1,-0.55,0,-1,303,277.6)"><rect x="2.20" y="3.00" width="2" height="2.6" fill="#4238b8"/><rect x="6.02" y="3.00" width="2" height="2.6" fill="#4238b8"/><rect x="9.84" y="3.00" width="2" height="2.6" fill="#4238b8"/><rect x="13.66" y="3.00" width="2" height="2.6" fill="#4238b8"/><rect x="17.48" y="3.00" width="2" height="2.6" fill="#4238b8"/><rect x="2.20" y="7.65" width="2" height="2.6" fill="#4238b8"/><rect x="6.02" y="7.65" width="2" height="2.6" fill="#f2b26e"/><rect x="9.84" y="7.65" width="2" height="2.6" fill="#4238b8"/><rect x="13.66" y="7.65" width="2" height="2.6" fill="#4238b8"/><rect x="17.48" y="7.65" width="2" height="2.6" fill="#4238b8"/><rect x="2.20" y="12.30" width="2" height="2.6" fill="#4238b8"/><rect x="6.02" y="12.30" width="2" height="2.6" fill="#4238b8"/><rect x="9.84" y="12.30" width="2" height="2.6" fill="#4238b8"/><rect x="13.66" y="12.30" width="2" height="2.6" fill="#f2b26e"/><rect x="17.48" y="12.30" width="2" height="2.6" fill="#4238b8"/><rect x="2.20" y="16.95" width="2" height="2.6" fill="#4238b8"/><rect x="6.02" y="16.95" width="2" height="2.6" fill="#4238b8"/><rect x="9.84" y="16.95" width="2" height="2.6" fill="#4238b8"/><rect x="13.66" y="16.95" width="2" height="2.6" fill="#4238b8"/><rect x="17.48" y="16.95" width="2" height="2.6" fill="#4238b8"/></g>
<polygon points="303.00,254.00 282.00,242.45 282.00,218.85 303.00,230.40" fill="#5646d0"/>
<polygon points="303.00,254.00 325.60,241.57 325.60,217.97 303.00,230.40" fill="#5f4cdc"/>
<polygon points="303.00,230.40 282.00,218.85 304.60,206.42 325.60,217.97" fill="#6553e3"/>
<g transform="matrix(-1,-0.55,0,-1,303,254)"><rect x="2.20" y="3.00" width="2" height="2.6" fill="#3e36b0"/><rect x="5.70" y="3.00" width="2" height="2.6" fill="#3e36b0"/><rect x="9.20" y="3.00" width="2" height="2.6" fill="#3e36b0"/><rect x="12.70" y="3.00" width="2" height="2.6" fill="#3e36b0"/><rect x="16.20" y="3.00" width="2" height="2.6" fill="#3e36b0"/><rect x="2.20" y="7.65" width="2" height="2.6" fill="#3e36b0"/><rect x="5.70" y="7.65" width="2" height="2.6" fill="#3e36b0"/><rect x="9.20" y="7.65" width="2" height="2.6" fill="#3e36b0"/><rect x="12.70" y="7.65" width="2" height="2.6" fill="#3e36b0"/><rect x="16.20" y="7.65" width="2" height="2.6" fill="#3e36b0"/><rect x="2.20" y="12.30" width="2" height="2.6" fill="#3e36b0"/><rect x="5.70" y="12.30" width="2" height="2.6" fill="#3e36b0"/><rect x="9.20" y="12.30" width="2" height="2.6" fill="#3e36b0"/><rect x="12.70" y="12.30" width="2" height="2.6" fill="#3e36b0"/><rect x="16.20" y="12.30" width="2" height="2.6" fill="#3e36b0"/><rect x="2.20" y="16.95" width="2" height="2.6" fill="#3e36b0"/><rect x="5.70" y="16.95" width="2" height="2.6" fill="#3e36b0"/><rect x="9.20" y="16.95" width="2" height="2.6" fill="#3e36b0"/><rect x="12.70" y="16.95" width="2" height="2.6" fill="#3e36b0"/><rect x="16.20" y="16.95" width="2" height="2.6" fill="#3e36b0"/></g>
<g transform="matrix(1,-0.55,0,-1,303,254)"><rect x="2.20" y="3.00" width="2" height="2.6" fill="#4238b8"/><rect x="6.02" y="3.00" width="2" height="2.6" fill="#4238b8"/><rect x="9.84" y="3.00" width="2" height="2.6" fill="#f2b26e"/><rect x="13.66" y="3.00" width="2" height="2.6" fill="#4238b8"/><rect x="17.48" y="3.00" width="2" height="2.6" fill="#4238b8"/><rect x="2.20" y="7.65" width="2" height="2.6" fill="#4238b8"/><rect x="6.02" y="7.65" width="2" height="2.6" fill="#4238b8"/><rect x="9.84" y="7.65" width="2" height="2.6" fill="#4238b8"/><rect x="13.66" y="7.65" width="2" height="2.6" fill="#4238b8"/><rect x="17.48" y="7.65" width="2" height="2.6" fill="#4238b8"/><rect x="2.20" y="12.30" width="2" height="2.6" fill="#f2b26e"/><rect x="6.02" y="12.30" width="2" height="2.6" fill="#4238b8"/><rect x="9.84" y="12.30" width="2" height="2.6" fill="#4238b8"/><rect x="13.66" y="12.30" width="2" height="2.6" fill="#4238b8"/><rect x="17.48" y="12.30" width="2" height="2.6" fill="#4238b8"/><rect x="2.20" y="16.95" width="2" height="2.6" fill="#4238b8"/><rect x="6.02" y="16.95" width="2" height="2.6" fill="#4238b8"/><rect x="9.84" y="16.95" width="2" height="2.6" fill="#4238b8"/><rect x="13.66" y="16.95" width="2" height="2.6" fill="#4238b8"/><rect x="17.48" y="16.95" width="2" height="2.6" fill="#f2b26e"/></g>
<polygon points="303.00,230.40 282.00,218.85 282.00,195.25 303.00,206.80" fill="#5646d0"/>
<polygon points="303.00,230.40 325.60,217.97 325.60,194.37 303.00,206.80" fill="#5f4cdc"/>
<polygon points="303.00,206.80 282.00,195.25 304.60,182.82 325.60,194.37" fill="#6553e3"/>
<g transform="matrix(-1,-0.55,0,-1,303,230.4)"><rect x="2.20" y="3.00" width="2" height="2.6" fill="#3e36b0"/><rect x="5.70" y="3.00" width="2" height="2.6" fill="#3e36b0"/><rect x="9.20" y="3.00" width="2" height="2.6" fill="#3e36b0"/><rect x="12.70" y="3.00" width="2" height="2.6" fill="#3e36b0"/><rect x="16.20" y="3.00" width="2" height="2.6" fill="#3e36b0"/><rect x="2.20" y="7.65" width="2" height="2.6" fill="#3e36b0"/><rect x="5.70" y="7.65" width="2" height="2.6" fill="#3e36b0"/><rect x="9.20" y="7.65" width="2" height="2.6" fill="#3e36b0"/><rect x="12.70" y="7.65" width="2" height="2.6" fill="#3e36b0"/><rect x="16.20" y="7.65" width="2" height="2.6" fill="#3e36b0"/><rect x="2.20" y="12.30" width="2" height="2.6" fill="#3e36b0"/><rect x="5.70" y="12.30" width="2" height="2.6" fill="#3e36b0"/><rect x="9.20" y="12.30" width="2" height="2.6" fill="#3e36b0"/><rect x="12.70" y="12.30" width="2" height="2.6" fill="#3e36b0"/><rect x="16.20" y="12.30" width="2" height="2.6" fill="#3e36b0"/><rect x="2.20" y="16.95" width="2" height="2.6" fill="#3e36b0"/><rect x="5.70" y="16.95" width="2" height="2.6" fill="#3e36b0"/><rect x="9.20" y="16.95" width="2" height="2.6" fill="#3e36b0"/><rect x="12.70" y="16.95" width="2" height="2.6" fill="#3e36b0"/><rect x="16.20" y="16.95" width="2" height="2.6" fill="#3e36b0"/></g>
<g transform="matrix(1,-0.55,0,-1,303,230.4)"><rect x="2.20" y="3.00" width="2" height="2.6" fill="#4238b8"/><rect x="6.02" y="3.00" width="2" height="2.6" fill="#4238b8"/><rect x="9.84" y="3.00" width="2" height="2.6" fill="#4238b8"/><rect x="13.66" y="3.00" width="2" height="2.6" fill="#4238b8"/><rect x="17.48" y="3.00" width="2" height="2.6" fill="#4238b8"/><rect x="2.20" y="7.65" width="2" height="2.6" fill="#4238b8"/><rect x="6.02" y="7.65" width="2" height="2.6" fill="#4238b8"/><rect x="9.84" y="7.65" width="2" height="2.6" fill="#4238b8"/><rect x="13.66" y="7.65" width="2" height="2.6" fill="#f2b26e"/><rect x="17.48" y="7.65" width="2" height="2.6" fill="#4238b8"/><rect x="2.20" y="12.30" width="2" height="2.6" fill="#4238b8"/><rect x="6.02" y="12.30" width="2" height="2.6" fill="#4238b8"/><rect x="9.84" y="12.30" width="2" height="2.6" fill="#4238b8"/><rect x="13.66" y="12.30" width="2" height="2.6" fill="#4238b8"/><rect x="17.48" y="12.30" width="2" height="2.6" fill="#4238b8"/><rect x="2.20" y="16.95" width="2" height="2.6" fill="#4238b8"/><rect x="6.02" y="16.95" width="2" height="2.6" fill="#f2b26e"/><rect x="9.84" y="16.95" width="2" height="2.6" fill="#4238b8"/><rect x="13.66" y="16.95" width="2" height="2.6" fill="#4238b8"/><rect x="17.48" y="16.95" width="2" height="2.6" fill="#4238b8"/></g>
<polygon points="303.00,206.80 288.00,198.55 288.00,189.55 303.00,197.80" fill="#5646d0"/>
<polygon points="303.00,206.80 319.00,198.00 319.00,189.00 303.00,197.80" fill="#6350e0"/>
<polygon points="303.00,197.80 288.00,189.55 304.00,180.75 319.00,189.00" fill="#6b5ae6"/>
<polygon points="303.00,197.80 293.00,192.30 293.00,184.30 303.00,189.80" fill="#5646d0"/>
<polygon points="303.00,197.80 313.00,192.30 313.00,184.30 303.00,189.80" fill="#6350e0"/>
<polygon points="303.00,189.80 293.00,184.30 303.00,178.80 313.00,184.30" fill="#7262ea"/>
<circle cx="315.8" cy="282" r="1.4" fill="#fbe3dc"/>
<polygon points="112.00,302.00 88.00,288.80 88.00,224.80 112.00,238.00" fill="url(#gL)"/>
<polygon points="112.00,302.00 136.00,288.80 136.00,224.80 112.00,238.00" fill="url(#gR)"/>
<polygon points="112.00,238.00 88.00,224.80 112.00,211.60 136.00,224.80" fill="#5f50de"/>
<path d="M91.60,287.78V229.78M95.80,290.09V232.09M100.00,292.40V234.40M104.20,294.71V236.71M108.40,297.02V239.02" stroke="#4f4cc0" stroke-width="0.55" fill="none"/>
<path d="M115.25,297.21V239.21M118.75,295.29V237.29M122.25,293.36V235.36M125.75,291.44V233.44M129.25,289.51V231.51M132.75,287.59V229.59" stroke="#8f7cee" stroke-width="0.55" fill="none"/>
<polygon points="112.00,238.00 98.00,230.30 98.00,222.30 112.00,230.00" fill="url(#gL)"/>
<polygon points="112.00,238.00 126.00,230.30 126.00,222.30 112.00,230.00" fill="url(#gR)"/>
<polygon points="112.00,230.00 98.00,222.30 112.00,214.60 126.00,222.30" fill="#6553e3"/>
<polygon points="112.00,230.00 103.00,225.05 103.00,220.05 112.00,225.00" fill="url(#gL)"/>
<polygon points="112.00,230.00 121.00,225.05 121.00,220.05 112.00,225.00" fill="url(#gR)"/>
<polygon points="112.00,225.00 103.00,220.05 112.00,215.10 121.00,220.05" fill="#7060ea"/>
<circle cx="98" cy="295" r="1.4" fill="#fbe3dc"/>
<circle cx="124.6" cy="296" r="1.4" fill="#fbe3dc"/>
<path d="M124.6,304V308.5" stroke="#6a5ad8" stroke-width="0.7"/><circle cx="124.6" cy="304" r="2.8" fill="#8c7be9"/>
<polygon points="146,281 162.5,272 162.5,285 146,294" fill="#7a68e6"/><path d="M154.3,289V298" stroke="#7a68e6" stroke-width="0.8"/>
<polygon points="264.00,304.00 238.50,289.98 238.50,233.98 264.00,248.00" fill="url(#gL)"/>
<polygon points="264.00,304.00 286.00,291.90 286.00,235.90 264.00,248.00" fill="url(#gR)"/>
<polygon points="264.00,248.00 238.50,233.98 260.50,221.88 286.00,235.90" fill="#5d4edb"/>
<path d="M240.00,286.01L262.50,298.39M240.00,282.44L262.50,294.82M240.00,278.87L262.50,291.25M240.00,275.30L262.50,287.68M240.00,271.73L262.50,284.10M240.00,268.16L262.50,280.53M240.00,264.59L262.50,276.96M240.00,261.01L262.50,273.39M240.00,257.44L262.50,269.82M240.00,253.87L262.50,266.25M240.00,250.30L262.50,262.68M240.00,246.73L262.50,259.10M240.00,243.16L262.50,255.53M240.00,239.59L262.50,251.96" stroke="#a995e6" stroke-width="0.6" fill="none"/>
<path d="M265.50,298.39L284.50,287.94M265.50,294.82L284.50,284.37M265.50,291.25L284.50,280.80M265.50,287.68L284.50,277.23M265.50,284.10L284.50,273.65M265.50,280.53L284.50,270.08M265.50,276.96L284.50,266.51M265.50,273.39L284.50,262.94M265.50,269.82L284.50,259.37M265.50,266.25L284.50,255.80M265.50,262.68L284.50,252.23M265.50,259.10L284.50,248.65M265.50,255.53L284.50,245.08M265.50,251.96L284.50,241.51" stroke="#f0b2a0" stroke-width="0.6" fill="none"/>
<polygon points="263.51,244.34 245.15,234.24 260.99,225.53 279.35,235.63" fill="url(#gRoof)"/>
<circle cx="275.7" cy="299.7" r="1.4" fill="#fbe3dc"/>
<path d="M277,308.6V313.1" stroke="#6a5ad8" stroke-width="0.7"/><circle cx="277" cy="308.6" r="2.8" fill="#8c7be9"/>
<path d="M222.7,241V245.5" stroke="#6a5ad8" stroke-width="0.7"/><circle cx="222.7" cy="241" r="2.8" fill="#8c7be9"/>
<path d="M274,202V206.5" stroke="#6a5ad8" stroke-width="0.7"/><circle cx="274" cy="202" r="2.8" fill="#8c7be9"/>
<polygon points="181.00,350.00 160.00,338.45 160.00,332.45 181.00,344.00" fill="#5a48d8"/>
<polygon points="181.00,350.00 206.00,336.25 206.00,330.25 181.00,344.00" fill="#4b3cc4"/>
<polygon points="181.00,344.00 160.00,332.45 185.00,318.70 206.00,330.25" fill="#6a54e6"/>
<path d="M162.50,339.10V334.72M164.50,340.20V335.82M166.50,341.30V336.92M168.50,342.40V338.02M170.50,343.50V339.12M172.50,344.60V340.22M174.50,345.70V341.32M176.50,346.80V342.42M178.50,347.90V343.52" stroke="#f3c1a0" stroke-width="0.55" fill="none"/>
<path d="M183.60,347.85V343.47M185.80,346.64V342.26M188.00,345.43V341.05M190.20,344.22V339.84M192.40,343.01V338.63M194.60,341.80V337.42M196.80,340.59V336.21M199.00,339.38V335.00M201.20,338.17V333.79M203.40,336.96V332.58" stroke="#f3c1a0" stroke-width="0.55" fill="none"/>
<polygon points="171.00,344.00 161.00,338.50 161.00,307.50 171.00,313.00" fill="#6f5cf0"/>
<polygon points="171.00,344.00 182.00,337.95 182.00,306.95 171.00,313.00" fill="#7a66f4"/>
<polygon points="171.00,313.00 161.00,307.50 172.00,301.45 182.00,306.95" fill="#7a66f0"/>
<polygon points="171.09,311.96 162.89,307.45 171.91,302.49 180.11,307.00" fill="url(#gRoof)"/>
<path d="M161.00,335.06L171.00,340.56L182.00,334.51M161.00,331.61L171.00,337.11L182.00,331.06M161.00,328.17L171.00,333.67L182.00,327.62M161.00,324.72L171.00,330.22L182.00,324.17M161.00,321.28L171.00,326.78L182.00,320.73M161.00,317.83L171.00,323.33L182.00,317.28M161.00,314.39L171.00,319.89L182.00,313.84M161.00,310.94L171.00,316.44L182.00,310.39" stroke="#3c30b8" stroke-width="1.4" fill="none"/>
<polygon points="195.00,333.00 185.00,327.50 185.00,290.50 195.00,296.00" fill="#6f5cf0"/>
<polygon points="195.00,333.00 206.00,326.95 206.00,289.95 195.00,296.00" fill="#7a66f4"/>
<polygon points="195.00,296.00 185.00,290.50 196.00,284.45 206.00,289.95" fill="#7a66f0"/>
<polygon points="195.09,294.96 186.89,290.45 195.91,285.49 204.11,290.00" fill="url(#gRoof)"/>
<path d="M185.00,323.80L195.00,329.30L206.00,323.25M185.00,320.10L195.00,325.60L206.00,319.55M185.00,316.40L195.00,321.90L206.00,315.85M185.00,312.70L195.00,318.20L206.00,312.15M185.00,309.00L195.00,314.50L206.00,308.45M185.00,305.30L195.00,310.80L206.00,304.75M185.00,301.60L195.00,307.10L206.00,301.05M185.00,297.90L195.00,303.40L206.00,297.35M185.00,294.20L195.00,299.70L206.00,293.65" stroke="#3c30b8" stroke-width="1.4" fill="none"/>
<rect x="269" y="178" width="5" height="2.5" fill="#b070d8" transform="rotate(-28 271 179)"/>
</svg></div></div>
</body></html>
